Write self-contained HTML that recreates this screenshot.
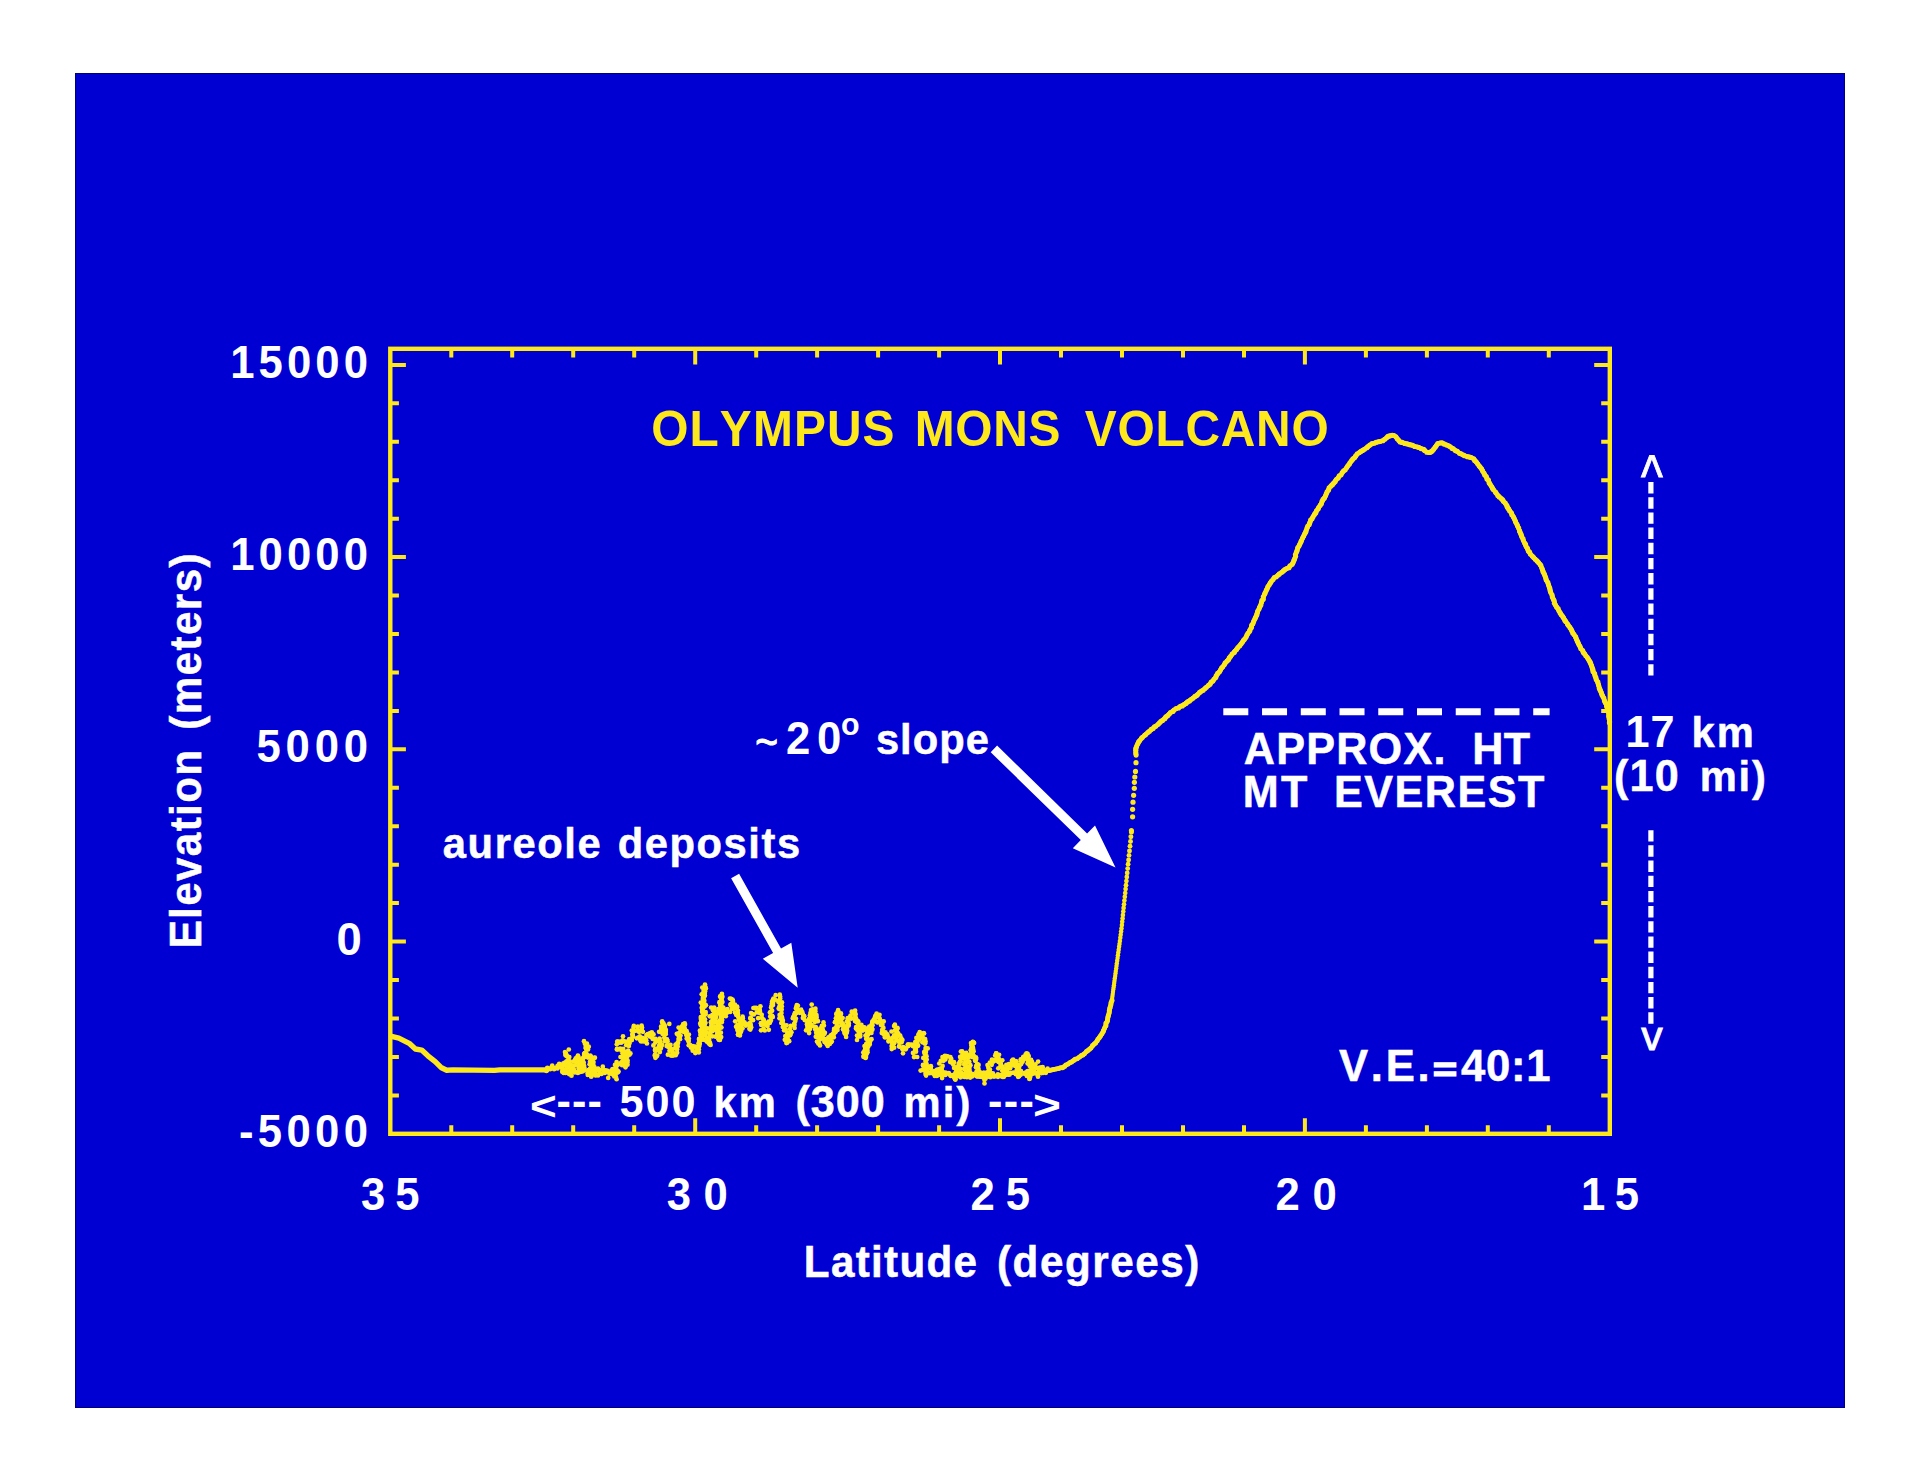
<!DOCTYPE html>
<html lang="en"><head><meta charset="utf-8"><title>Olympus Mons Volcano - elevation profile</title>
<style>html,body{margin:0;padding:0;background:#fff;}body{width:1920px;height:1483px;overflow:hidden;}svg{display:block;}text{font-family:"Liberation Sans", Arial, Helvetica, sans-serif;font-weight:bold;font-kerning:none;white-space:pre;}</style>
</head><body>
<svg width="1920" height="1483" viewBox="0 0 1920 1483">
<rect x="0" y="0" width="1920" height="1483" fill="#ffffff"/>
<rect x="75" y="73" width="1770" height="1335" fill="#0000d2"/>
<rect x="75.5" y="73.5" width="1769" height="1334" fill="none" stroke="#000078" stroke-width="1"/>
<g stroke="#fde81c" stroke-width="4.4" fill="none">
<rect x="390.3" y="348.8" width="1219.5" height="785.0"/>
</g>
<g stroke="#fde81c" stroke-width="4.0" fill="none">
<path d="M1548.8 1133.8v-8.6M1548.8 348.8v8.6"/>
<path d="M1487.8 1133.8v-8.6M1487.8 348.8v8.6"/>
<path d="M1426.9 1133.8v-8.6M1426.9 348.8v8.6"/>
<path d="M1365.9 1133.8v-8.6M1365.9 348.8v8.6"/>
<path d="M1304.9 1133.8v-15.6M1304.9 348.8v15.6"/>
<path d="M1244.0 1133.8v-8.6M1244.0 348.8v8.6"/>
<path d="M1183.0 1133.8v-8.6M1183.0 348.8v8.6"/>
<path d="M1122.0 1133.8v-8.6M1122.0 348.8v8.6"/>
<path d="M1061.0 1133.8v-8.6M1061.0 348.8v8.6"/>
<path d="M1000.0 1133.8v-15.6M1000.0 348.8v15.6"/>
<path d="M939.1 1133.8v-8.6M939.1 348.8v8.6"/>
<path d="M878.1 1133.8v-8.6M878.1 348.8v8.6"/>
<path d="M817.1 1133.8v-8.6M817.1 348.8v8.6"/>
<path d="M756.2 1133.8v-8.6M756.2 348.8v8.6"/>
<path d="M695.2 1133.8v-15.6M695.2 348.8v15.6"/>
<path d="M634.2 1133.8v-8.6M634.2 348.8v8.6"/>
<path d="M573.2 1133.8v-8.6M573.2 348.8v8.6"/>
<path d="M512.2 1133.8v-8.6M512.2 348.8v8.6"/>
<path d="M451.3 1133.8v-8.6M451.3 348.8v8.6"/>
<path d="M390.3 1095.4h8.6M1609.8 1095.4h-8.6"/>
<path d="M390.3 1056.9h8.6M1609.8 1056.9h-8.6"/>
<path d="M390.3 1018.5h8.6M1609.8 1018.5h-8.6"/>
<path d="M390.3 980.0h8.6M1609.8 980.0h-8.6"/>
<path d="M390.3 941.6h15.6M1609.8 941.6h-15.6"/>
<path d="M390.3 903.1h8.6M1609.8 903.1h-8.6"/>
<path d="M390.3 864.7h8.6M1609.8 864.7h-8.6"/>
<path d="M390.3 826.2h8.6M1609.8 826.2h-8.6"/>
<path d="M390.3 787.8h8.6M1609.8 787.8h-8.6"/>
<path d="M390.3 749.3h15.6M1609.8 749.3h-15.6"/>
<path d="M390.3 710.9h8.6M1609.8 710.9h-8.6"/>
<path d="M390.3 672.5h8.6M1609.8 672.5h-8.6"/>
<path d="M390.3 634.0h8.6M1609.8 634.0h-8.6"/>
<path d="M390.3 595.6h8.6M1609.8 595.6h-8.6"/>
<path d="M390.3 557.1h15.6M1609.8 557.1h-15.6"/>
<path d="M390.3 518.7h8.6M1609.8 518.7h-8.6"/>
<path d="M390.3 480.2h8.6M1609.8 480.2h-8.6"/>
<path d="M390.3 441.8h8.6M1609.8 441.8h-8.6"/>
<path d="M390.3 403.3h8.6M1609.8 403.3h-8.6"/>
<path d="M390.3 364.9h15.6M1609.8 364.9h-15.6"/>
</g>
<text transform="translate(230.15 377.70) scale(0.9600 1.0000)" font-size="45.50" fill="#ffffff" stroke="#ffffff" stroke-width="0.00" letter-spacing="4.265">15000</text>
<text transform="translate(230.15 569.90) scale(0.9600 1.0000)" font-size="45.50" fill="#ffffff" stroke="#ffffff" stroke-width="0.00" letter-spacing="4.265">10000</text>
<text transform="translate(256.56 762.20) scale(0.9600 1.0000)" font-size="45.50" fill="#ffffff" stroke="#ffffff" stroke-width="0.00" letter-spacing="4.953">5000</text>
<text transform="translate(238.89 1146.50) scale(0.9600 1.0000)" font-size="45.50" fill="#ffffff" stroke="#ffffff" stroke-width="0.00" letter-spacing="4.526">-5000</text>
<text transform="translate(336.60 954.60) scale(0.9982 1.0000)" font-size="45.50" fill="#ffffff" stroke="#ffffff" stroke-width="0.00" letter-spacing="0.000">0</text>
<text transform="translate(361.10 1209.60) scale(0.9600 1.0000)" font-size="45.50" fill="#ffffff" stroke="#ffffff" stroke-width="0.00" letter-spacing="10.242">35</text>
<text transform="translate(666.70 1209.60) scale(0.9600 1.0000)" font-size="45.50" fill="#ffffff" stroke="#ffffff" stroke-width="0.00" letter-spacing="13.030">30</text>
<text transform="translate(970.39 1209.60) scale(0.9600 1.0000)" font-size="45.50" fill="#ffffff" stroke="#ffffff" stroke-width="0.00" letter-spacing="11.453">25</text>
<text transform="translate(1275.59 1209.60) scale(0.9600 1.0000)" font-size="45.50" fill="#ffffff" stroke="#ffffff" stroke-width="0.00" letter-spacing="13.146">20</text>
<text transform="translate(1580.95 1209.60) scale(0.9600 1.0000)" font-size="45.50" fill="#ffffff" stroke="#ffffff" stroke-width="0.00" letter-spacing="9.981">15</text>
<text transform="translate(803.83 1277.25) scale(0.9700 1.0000)" font-size="43.50" fill="#ffffff" stroke="#ffffff" stroke-width="0.50" letter-spacing="1.352">Latitude</text>
<text transform="translate(996.95 1277.25) scale(0.9700 1.0000)" font-size="43.50" fill="#ffffff" stroke="#ffffff" stroke-width="0.50" letter-spacing="1.606">(degrees)</text>
<text transform="translate(201.15 948.37) rotate(-90) scale(0.9700 1)" font-size="43.50" fill="#ffffff" stroke="#ffffff" stroke-width="0.50" letter-spacing="1.398">Elevation</text>
<text transform="translate(201.15 729.85) rotate(-90) scale(0.9700 1)" font-size="43.50" fill="#ffffff" stroke="#ffffff" stroke-width="0.50" letter-spacing="1.474">(meters)</text>
<text transform="translate(651.13 446.00) scale(0.9700 1.0000)" font-size="49.40" fill="#fde81c" stroke="#fde81c" stroke-width="0.00" letter-spacing="1.124">OLYMPUS</text>
<text transform="translate(914.69 446.00) scale(0.9700 1.0000)" font-size="49.40" fill="#fde81c" stroke="#fde81c" stroke-width="0.00" letter-spacing="0.695">MONS</text>
<text transform="translate(1084.87 446.00) scale(0.9700 1.0000)" font-size="49.40" fill="#fde81c" stroke="#fde81c" stroke-width="0.00" letter-spacing="0.730">VOLCANO</text>
<text transform="translate(755.35 758.03) scale(0.9764 1.1691)" font-size="40.0" font-weight="normal" style="font-weight:normal" fill="#ffffff" stroke="#ffffff" stroke-width="0.93">~</text>
<text transform="translate(785.99 754.00) scale(0.9600 1.0000)" font-size="45.50" fill="#ffffff" stroke="#ffffff" stroke-width="0.00" letter-spacing="6.896">20</text>
<text transform="translate(841.01 735.00) scale(0.9971 1.0000)" font-size="30.50" fill="#ffffff" stroke="#ffffff" stroke-width="0.00" letter-spacing="0.000">o</text>
<text transform="translate(875.88 754.25) scale(0.9700 1.0000)" font-size="43.00" fill="#ffffff" stroke="#ffffff" stroke-width="0.50" letter-spacing="1.070">slope</text>
<text transform="translate(442.83 857.95) scale(0.9700 1.0000)" font-size="43.00" fill="#ffffff" stroke="#ffffff" stroke-width="0.50" letter-spacing="1.646">aureole</text>
<text transform="translate(617.84 857.95) scale(0.9700 1.0000)" font-size="43.00" fill="#ffffff" stroke="#ffffff" stroke-width="0.50" letter-spacing="1.593">deposits</text>
<text transform="translate(530.07 1119.78) scale(1.1466 1.0157)" font-size="40.0" fill="#ffffff">&lt;</text>
<text transform="translate(556.51 1115.90) scale(0.9600 1.0000)" font-size="45.00" fill="#ffffff" stroke="#ffffff" stroke-width="0.00" letter-spacing="1.177">---</text>
<text transform="translate(619.57 1117.20) scale(0.9600 1.0000)" font-size="45.00" fill="#ffffff" stroke="#ffffff" stroke-width="0.00" letter-spacing="2.043">500</text>
<text transform="translate(713.44 1117.45) scale(0.9700 1.0000)" font-size="43.00" fill="#ffffff" stroke="#ffffff" stroke-width="0.50" letter-spacing="2.180">km</text>
<text transform="translate(795.40 1117.45) scale(0.9700 1.0000)" font-size="44.50" fill="#ffffff" stroke="#ffffff" stroke-width="0.50" letter-spacing="1.040">(300</text>
<text transform="translate(903.40 1117.45) scale(0.9700 1.0000)" font-size="43.00" fill="#ffffff" stroke="#ffffff" stroke-width="0.50" letter-spacing="2.300">mi)</text>
<text transform="translate(988.11 1115.90) scale(0.9600 1.0000)" font-size="45.00" fill="#ffffff" stroke="#ffffff" stroke-width="0.00" letter-spacing="1.333">---</text>
<text transform="translate(1032.99 1119.38) scale(1.1965 1.0157)" font-size="40.0" fill="#ffffff">&gt;</text>
<text transform="translate(1338.95 1081.25) scale(0.9700 1.0000)" font-size="45.00" fill="#ffffff" stroke="#ffffff" stroke-width="0.50" letter-spacing="2.859">V.E.</text>
<text transform="translate(1432.90 1080.95) scale(1.0270 0.8533)" font-size="40.0" fill="#ffffff" stroke="#ffffff" stroke-width="1.91" stroke-linejoin="miter">=</text>
<text transform="translate(1461.09 1081.25) scale(0.9700 1.0000)" font-size="45.00" fill="#ffffff" stroke="#ffffff" stroke-width="0.50" letter-spacing="0.691">40:1</text>
<text transform="translate(1243.78 763.55) scale(0.9700 1.0000)" font-size="44.50" fill="#ffffff" stroke="#ffffff" stroke-width="0.50" letter-spacing="1.274">APPROX.</text>
<text transform="translate(1472.16 763.55) scale(0.9700 1.0000)" font-size="44.50" fill="#ffffff" stroke="#ffffff" stroke-width="0.50" letter-spacing="0.425">HT</text>
<text transform="translate(1242.86 807.45) scale(0.9700 1.0000)" font-size="44.50" fill="#ffffff" stroke="#ffffff" stroke-width="0.50" letter-spacing="2.193">MT</text>
<text transform="translate(1334.06 807.45) scale(0.9700 1.0000)" font-size="44.50" fill="#ffffff" stroke="#ffffff" stroke-width="0.50" letter-spacing="1.505">EVEREST</text>
<text transform="translate(1640.92 497.14) scale(1.1644 1.4748)" font-size="40.0" font-weight="normal" style="font-weight:normal" fill="#ffffff" stroke="#ffffff" stroke-width="0.68">^</text>
<text transform="translate(1625.38 746.60) scale(0.9600 1.0000)" font-size="45.00" fill="#ffffff" stroke="#ffffff" stroke-width="0.00" letter-spacing="1.217">17</text>
<text transform="translate(1691.54 746.85) scale(0.9700 1.0000)" font-size="43.00" fill="#ffffff" stroke="#ffffff" stroke-width="0.50" letter-spacing="1.974">km</text>
<text transform="translate(1614.00 790.75) scale(0.9700 1.0000)" font-size="44.50" fill="#ffffff" stroke="#ffffff" stroke-width="0.50" letter-spacing="1.254">(10</text>
<text transform="translate(1699.70 790.75) scale(0.9700 1.0000)" font-size="43.00" fill="#ffffff" stroke="#ffffff" stroke-width="0.50" letter-spacing="1.888">mi)</text>
<text transform="translate(1641.30 1049.95) scale(1.0696 0.9984)" font-size="40.0" font-weight="normal" style="font-weight:normal" fill="#ffffff" stroke="#ffffff" stroke-width="0.87">v</text>
<g fill="none" stroke="#fde81c" stroke-linejoin="round" stroke-linecap="round">
<polyline stroke-width="5.4" points="391.5,1036.4 398.8,1038.1 409.2,1043.3 415.4,1049.0 421.7,1050.1 427.9,1055.8 435.2,1061.6 441.5,1067.8 446.7,1070.2 452.9,1069.9 494.6,1070.4 499.8,1069.9 546.7,1069.9"/>
</g>
<g fill="#fde81c"><circle cx="546.4" cy="1070.9" r="2.35"/><circle cx="547.3" cy="1068.4" r="2.35"/><circle cx="547.4" cy="1067.8" r="2.35"/><circle cx="550.9" cy="1068.3" r="2.35"/><circle cx="551.8" cy="1067.1" r="2.35"/><circle cx="551.9" cy="1067.1" r="2.35"/><circle cx="550.2" cy="1069.2" r="2.35"/><circle cx="554.1" cy="1069.2" r="2.35"/><circle cx="552.2" cy="1065.5" r="2.35"/><circle cx="554.2" cy="1068.1" r="2.35"/><circle cx="556.5" cy="1067.9" r="2.35"/><circle cx="557.6" cy="1065.8" r="2.35"/><circle cx="558.1" cy="1066.9" r="2.35"/><circle cx="557.6" cy="1068.5" r="2.35"/><circle cx="560.0" cy="1066.7" r="2.35"/><circle cx="559.2" cy="1063.8" r="2.35"/><circle cx="560.3" cy="1066.1" r="2.35"/><circle cx="562.3" cy="1067.8" r="2.35"/><circle cx="561.6" cy="1066.4" r="2.35"/><circle cx="562.2" cy="1071.8" r="2.35"/><circle cx="562.4" cy="1069.8" r="2.35"/><circle cx="564.3" cy="1065.2" r="2.35"/><circle cx="564.1" cy="1069.5" r="2.35"/><circle cx="561.7" cy="1065.1" r="2.35"/><circle cx="564.4" cy="1062.9" r="2.35"/><circle cx="565.5" cy="1063.2" r="2.35"/><circle cx="563.2" cy="1063.7" r="2.35"/><circle cx="566.3" cy="1062.7" r="2.35"/><circle cx="567.6" cy="1060.4" r="2.35"/><circle cx="566.2" cy="1055.8" r="2.35"/><circle cx="567.1" cy="1056.0" r="2.35"/><circle cx="566.0" cy="1053.4" r="2.35"/><circle cx="565.6" cy="1053.7" r="2.35"/><circle cx="568.8" cy="1049.5" r="2.35"/><circle cx="565.4" cy="1055.0" r="2.35"/><circle cx="569.3" cy="1057.0" r="2.35"/><circle cx="565.0" cy="1052.0" r="2.35"/><circle cx="568.1" cy="1056.8" r="2.35"/><circle cx="566.3" cy="1061.5" r="2.35"/><circle cx="569.3" cy="1061.1" r="2.35"/><circle cx="568.3" cy="1062.9" r="2.35"/><circle cx="570.2" cy="1064.5" r="2.35"/><circle cx="569.1" cy="1065.6" r="2.35"/><circle cx="566.8" cy="1068.2" r="2.35"/><circle cx="570.5" cy="1067.9" r="2.35"/><circle cx="567.1" cy="1066.7" r="2.35"/><circle cx="571.2" cy="1065.5" r="2.35"/><circle cx="570.4" cy="1072.4" r="2.35"/><circle cx="569.3" cy="1074.2" r="2.35"/><circle cx="572.2" cy="1069.5" r="2.35"/><circle cx="572.4" cy="1070.0" r="2.35"/><circle cx="572.6" cy="1069.8" r="2.35"/><circle cx="572.1" cy="1065.5" r="2.35"/><circle cx="574.8" cy="1065.3" r="2.35"/><circle cx="572.8" cy="1066.0" r="2.35"/><circle cx="576.3" cy="1062.0" r="2.35"/><circle cx="573.1" cy="1061.5" r="2.35"/><circle cx="575.1" cy="1060.0" r="2.35"/><circle cx="577.6" cy="1057.4" r="2.35"/><circle cx="577.9" cy="1055.7" r="2.35"/><circle cx="575.7" cy="1058.4" r="2.35"/><circle cx="578.7" cy="1057.7" r="2.35"/><circle cx="578.0" cy="1056.1" r="2.35"/><circle cx="577.9" cy="1058.2" r="2.35"/><circle cx="577.6" cy="1058.9" r="2.35"/><circle cx="578.7" cy="1059.6" r="2.35"/><circle cx="579.1" cy="1061.9" r="2.35"/><circle cx="580.9" cy="1062.7" r="2.35"/><circle cx="577.8" cy="1062.6" r="2.35"/><circle cx="578.7" cy="1066.3" r="2.35"/><circle cx="578.7" cy="1066.4" r="2.35"/><circle cx="582.0" cy="1061.7" r="2.35"/><circle cx="578.6" cy="1068.5" r="2.35"/><circle cx="581.0" cy="1069.7" r="2.35"/><circle cx="580.4" cy="1071.7" r="2.35"/><circle cx="581.7" cy="1069.9" r="2.35"/><circle cx="584.7" cy="1070.4" r="2.35"/><circle cx="581.0" cy="1068.3" r="2.35"/><circle cx="581.6" cy="1067.1" r="2.35"/><circle cx="578.6" cy="1065.1" r="2.35"/><circle cx="583.7" cy="1062.5" r="2.35"/><circle cx="582.5" cy="1065.5" r="2.35"/><circle cx="583.9" cy="1065.3" r="2.35"/><circle cx="580.8" cy="1060.4" r="2.35"/><circle cx="582.8" cy="1061.1" r="2.35"/><circle cx="584.8" cy="1053.3" r="2.35"/><circle cx="585.0" cy="1054.5" r="2.35"/><circle cx="584.7" cy="1053.2" r="2.35"/><circle cx="584.3" cy="1057.3" r="2.35"/><circle cx="584.1" cy="1054.1" r="2.35"/><circle cx="585.5" cy="1052.8" r="2.35"/><circle cx="584.6" cy="1054.3" r="2.35"/><circle cx="586.3" cy="1049.4" r="2.35"/><circle cx="588.7" cy="1046.5" r="2.35"/><circle cx="586.5" cy="1047.0" r="2.35"/><circle cx="585.7" cy="1047.7" r="2.35"/><circle cx="586.0" cy="1046.4" r="2.35"/><circle cx="584.0" cy="1041.2" r="2.35"/><circle cx="586.9" cy="1043.6" r="2.35"/><circle cx="584.9" cy="1043.8" r="2.35"/><circle cx="588.0" cy="1049.5" r="2.35"/><circle cx="588.2" cy="1047.3" r="2.35"/><circle cx="586.0" cy="1048.2" r="2.35"/><circle cx="586.7" cy="1054.8" r="2.35"/><circle cx="584.2" cy="1056.0" r="2.35"/><circle cx="586.4" cy="1053.7" r="2.35"/><circle cx="583.1" cy="1057.9" r="2.35"/><circle cx="586.4" cy="1054.7" r="2.35"/><circle cx="588.0" cy="1057.6" r="2.35"/><circle cx="590.3" cy="1055.7" r="2.35"/><circle cx="590.7" cy="1061.5" r="2.35"/><circle cx="592.0" cy="1059.1" r="2.35"/><circle cx="590.0" cy="1061.7" r="2.35"/><circle cx="592.2" cy="1059.2" r="2.35"/><circle cx="594.9" cy="1057.7" r="2.35"/><circle cx="591.0" cy="1056.7" r="2.35"/><circle cx="591.7" cy="1059.6" r="2.35"/><circle cx="594.2" cy="1057.9" r="2.35"/><circle cx="593.5" cy="1062.0" r="2.35"/><circle cx="593.2" cy="1064.2" r="2.35"/><circle cx="592.7" cy="1064.8" r="2.35"/><circle cx="594.4" cy="1067.2" r="2.35"/><circle cx="591.4" cy="1067.0" r="2.35"/><circle cx="589.6" cy="1064.3" r="2.35"/><circle cx="589.3" cy="1069.8" r="2.35"/><circle cx="590.0" cy="1068.9" r="2.35"/><circle cx="591.2" cy="1070.1" r="2.35"/><circle cx="590.5" cy="1071.8" r="2.35"/><circle cx="593.4" cy="1072.7" r="2.35"/><circle cx="591.5" cy="1075.8" r="2.35"/><circle cx="590.4" cy="1072.5" r="2.35"/><circle cx="591.2" cy="1076.7" r="2.35"/><circle cx="590.9" cy="1073.0" r="2.35"/><circle cx="595.6" cy="1075.4" r="2.35"/><circle cx="595.4" cy="1075.0" r="2.35"/><circle cx="596.7" cy="1070.5" r="2.35"/><circle cx="595.4" cy="1070.7" r="2.35"/><circle cx="599.5" cy="1069.9" r="2.35"/><circle cx="598.0" cy="1068.7" r="2.35"/><circle cx="598.1" cy="1069.2" r="2.35"/><circle cx="599.7" cy="1070.5" r="2.35"/><circle cx="599.4" cy="1070.8" r="2.35"/><circle cx="602.8" cy="1066.7" r="2.35"/><circle cx="605.8" cy="1070.4" r="2.35"/><circle cx="603.1" cy="1069.6" r="2.35"/><circle cx="607.6" cy="1070.9" r="2.35"/><circle cx="609.4" cy="1073.7" r="2.35"/><circle cx="610.4" cy="1073.2" r="2.35"/><circle cx="612.5" cy="1074.3" r="2.35"/><circle cx="612.5" cy="1069.2" r="2.35"/><circle cx="614.3" cy="1076.5" r="2.35"/><circle cx="613.9" cy="1073.4" r="2.35"/><circle cx="617.9" cy="1071.3" r="2.35"/><circle cx="616.6" cy="1079.2" r="2.35"/><circle cx="614.8" cy="1074.4" r="2.35"/><circle cx="618.5" cy="1071.6" r="2.35"/><circle cx="616.9" cy="1072.4" r="2.35"/><circle cx="615.0" cy="1069.1" r="2.35"/><circle cx="616.6" cy="1069.7" r="2.35"/><circle cx="616.3" cy="1066.4" r="2.35"/><circle cx="615.0" cy="1064.9" r="2.35"/><circle cx="617.8" cy="1064.7" r="2.35"/><circle cx="616.6" cy="1062.0" r="2.35"/><circle cx="622.1" cy="1065.2" r="2.35"/><circle cx="620.5" cy="1057.0" r="2.35"/><circle cx="621.5" cy="1062.4" r="2.35"/><circle cx="623.8" cy="1061.5" r="2.35"/><circle cx="622.5" cy="1061.2" r="2.35"/><circle cx="620.4" cy="1063.4" r="2.35"/><circle cx="623.8" cy="1061.1" r="2.35"/><circle cx="625.5" cy="1067.3" r="2.35"/><circle cx="622.3" cy="1063.6" r="2.35"/><circle cx="624.8" cy="1065.5" r="2.35"/><circle cx="624.1" cy="1061.9" r="2.35"/><circle cx="627.5" cy="1064.7" r="2.35"/><circle cx="623.3" cy="1058.7" r="2.35"/><circle cx="627.3" cy="1062.2" r="2.35"/><circle cx="627.6" cy="1060.6" r="2.35"/><circle cx="624.5" cy="1058.3" r="2.35"/><circle cx="623.6" cy="1055.3" r="2.35"/><circle cx="627.1" cy="1056.9" r="2.35"/><circle cx="627.0" cy="1054.7" r="2.35"/><circle cx="629.4" cy="1054.7" r="2.35"/><circle cx="630.4" cy="1053.4" r="2.35"/><circle cx="629.0" cy="1054.0" r="2.35"/><circle cx="628.2" cy="1050.5" r="2.35"/><circle cx="626.1" cy="1051.9" r="2.35"/><circle cx="625.6" cy="1052.0" r="2.35"/><circle cx="624.5" cy="1051.8" r="2.35"/><circle cx="623.1" cy="1048.8" r="2.35"/><circle cx="622.6" cy="1053.2" r="2.35"/><circle cx="621.4" cy="1050.4" r="2.35"/><circle cx="620.2" cy="1048.6" r="2.35"/><circle cx="616.9" cy="1049.4" r="2.35"/><circle cx="617.8" cy="1049.5" r="2.35"/><circle cx="617.3" cy="1041.6" r="2.35"/><circle cx="617.1" cy="1048.8" r="2.35"/><circle cx="617.6" cy="1041.7" r="2.35"/><circle cx="616.8" cy="1044.3" r="2.35"/><circle cx="619.2" cy="1042.6" r="2.35"/><circle cx="621.2" cy="1042.7" r="2.35"/><circle cx="620.1" cy="1041.5" r="2.35"/><circle cx="623.0" cy="1041.2" r="2.35"/><circle cx="623.0" cy="1036.3" r="2.35"/><circle cx="622.7" cy="1040.3" r="2.35"/><circle cx="623.7" cy="1041.4" r="2.35"/><circle cx="626.0" cy="1041.5" r="2.35"/><circle cx="626.2" cy="1045.2" r="2.35"/><circle cx="629.2" cy="1040.0" r="2.35"/><circle cx="628.9" cy="1046.0" r="2.35"/><circle cx="629.6" cy="1043.0" r="2.35"/><circle cx="631.7" cy="1040.1" r="2.35"/><circle cx="629.3" cy="1039.2" r="2.35"/><circle cx="631.7" cy="1039.9" r="2.35"/><circle cx="632.6" cy="1036.5" r="2.35"/><circle cx="633.1" cy="1036.4" r="2.35"/><circle cx="632.6" cy="1034.2" r="2.35"/><circle cx="632.4" cy="1034.3" r="2.35"/><circle cx="631.8" cy="1030.5" r="2.35"/><circle cx="633.6" cy="1027.6" r="2.35"/><circle cx="633.8" cy="1025.9" r="2.35"/><circle cx="634.7" cy="1030.9" r="2.35"/><circle cx="637.6" cy="1029.5" r="2.35"/><circle cx="637.8" cy="1026.7" r="2.35"/><circle cx="641.7" cy="1030.4" r="2.35"/><circle cx="642.0" cy="1027.5" r="2.35"/><circle cx="641.6" cy="1025.5" r="2.35"/><circle cx="642.9" cy="1031.8" r="2.35"/><circle cx="639.0" cy="1031.0" r="2.35"/><circle cx="641.8" cy="1028.7" r="2.35"/><circle cx="638.2" cy="1031.3" r="2.35"/><circle cx="639.3" cy="1031.8" r="2.35"/><circle cx="639.8" cy="1036.3" r="2.35"/><circle cx="640.1" cy="1038.4" r="2.35"/><circle cx="640.8" cy="1040.5" r="2.35"/><circle cx="636.8" cy="1038.3" r="2.35"/><circle cx="638.1" cy="1037.7" r="2.35"/><circle cx="640.5" cy="1040.5" r="2.35"/><circle cx="642.4" cy="1037.8" r="2.35"/><circle cx="641.2" cy="1041.5" r="2.35"/><circle cx="643.7" cy="1041.5" r="2.35"/><circle cx="645.0" cy="1041.2" r="2.35"/><circle cx="646.9" cy="1043.5" r="2.35"/><circle cx="646.2" cy="1040.3" r="2.35"/><circle cx="646.4" cy="1035.0" r="2.35"/><circle cx="645.6" cy="1039.3" r="2.35"/><circle cx="645.3" cy="1038.4" r="2.35"/><circle cx="647.7" cy="1034.0" r="2.35"/><circle cx="647.5" cy="1035.0" r="2.35"/><circle cx="649.6" cy="1036.4" r="2.35"/><circle cx="650.1" cy="1033.0" r="2.35"/><circle cx="651.2" cy="1034.1" r="2.35"/><circle cx="653.5" cy="1034.4" r="2.35"/><circle cx="651.8" cy="1032.3" r="2.35"/><circle cx="652.4" cy="1034.8" r="2.35"/><circle cx="651.7" cy="1037.2" r="2.35"/><circle cx="652.7" cy="1038.9" r="2.35"/><circle cx="654.2" cy="1039.1" r="2.35"/><circle cx="656.8" cy="1040.5" r="2.35"/><circle cx="655.4" cy="1042.6" r="2.35"/><circle cx="655.6" cy="1038.9" r="2.35"/><circle cx="653.4" cy="1045.4" r="2.35"/><circle cx="655.2" cy="1050.8" r="2.35"/><circle cx="655.0" cy="1049.9" r="2.35"/><circle cx="655.7" cy="1050.5" r="2.35"/><circle cx="655.4" cy="1049.5" r="2.35"/><circle cx="655.5" cy="1048.9" r="2.35"/><circle cx="656.5" cy="1050.3" r="2.35"/><circle cx="655.4" cy="1057.8" r="2.35"/><circle cx="654.9" cy="1054.9" r="2.35"/><circle cx="656.8" cy="1056.1" r="2.35"/><circle cx="654.8" cy="1055.8" r="2.35"/><circle cx="657.2" cy="1055.6" r="2.35"/><circle cx="656.1" cy="1056.6" r="2.35"/><circle cx="659.9" cy="1052.1" r="2.35"/><circle cx="658.7" cy="1050.1" r="2.35"/><circle cx="660.8" cy="1048.5" r="2.35"/><circle cx="660.1" cy="1047.7" r="2.35"/><circle cx="658.5" cy="1048.9" r="2.35"/><circle cx="661.3" cy="1046.2" r="2.35"/><circle cx="658.8" cy="1046.6" r="2.35"/><circle cx="659.8" cy="1044.3" r="2.35"/><circle cx="662.0" cy="1044.7" r="2.35"/><circle cx="659.5" cy="1045.8" r="2.35"/><circle cx="660.4" cy="1041.6" r="2.35"/><circle cx="659.7" cy="1038.7" r="2.35"/><circle cx="658.4" cy="1041.1" r="2.35"/><circle cx="662.6" cy="1033.9" r="2.35"/><circle cx="659.1" cy="1031.8" r="2.35"/><circle cx="662.7" cy="1032.9" r="2.35"/><circle cx="661.3" cy="1031.9" r="2.35"/><circle cx="661.4" cy="1029.2" r="2.35"/><circle cx="661.8" cy="1027.2" r="2.35"/><circle cx="661.8" cy="1029.5" r="2.35"/><circle cx="662.7" cy="1027.2" r="2.35"/><circle cx="661.1" cy="1026.7" r="2.35"/><circle cx="661.8" cy="1028.3" r="2.35"/><circle cx="663.6" cy="1023.7" r="2.35"/><circle cx="662.2" cy="1021.3" r="2.35"/><circle cx="662.2" cy="1022.7" r="2.35"/><circle cx="664.6" cy="1025.4" r="2.35"/><circle cx="665.7" cy="1029.6" r="2.35"/><circle cx="664.7" cy="1026.4" r="2.35"/><circle cx="669.3" cy="1023.9" r="2.35"/><circle cx="664.9" cy="1029.2" r="2.35"/><circle cx="665.8" cy="1031.0" r="2.35"/><circle cx="665.3" cy="1032.1" r="2.35"/><circle cx="665.7" cy="1034.2" r="2.35"/><circle cx="663.2" cy="1032.1" r="2.35"/><circle cx="665.6" cy="1033.1" r="2.35"/><circle cx="664.3" cy="1037.6" r="2.35"/><circle cx="664.8" cy="1038.9" r="2.35"/><circle cx="667.0" cy="1039.4" r="2.35"/><circle cx="667.0" cy="1039.8" r="2.35"/><circle cx="664.9" cy="1041.2" r="2.35"/><circle cx="667.6" cy="1041.4" r="2.35"/><circle cx="667.2" cy="1045.1" r="2.35"/><circle cx="666.6" cy="1046.1" r="2.35"/><circle cx="670.5" cy="1044.9" r="2.35"/><circle cx="668.6" cy="1046.9" r="2.35"/><circle cx="670.8" cy="1049.1" r="2.35"/><circle cx="670.3" cy="1048.3" r="2.35"/><circle cx="669.5" cy="1050.8" r="2.35"/><circle cx="667.9" cy="1054.7" r="2.35"/><circle cx="672.1" cy="1049.4" r="2.35"/><circle cx="672.6" cy="1053.7" r="2.35"/><circle cx="672.9" cy="1055.7" r="2.35"/><circle cx="671.0" cy="1055.6" r="2.35"/><circle cx="675.4" cy="1054.2" r="2.35"/><circle cx="672.6" cy="1051.5" r="2.35"/><circle cx="672.9" cy="1053.7" r="2.35"/><circle cx="677.1" cy="1052.7" r="2.35"/><circle cx="675.7" cy="1055.2" r="2.35"/><circle cx="675.2" cy="1048.2" r="2.35"/><circle cx="677.1" cy="1049.5" r="2.35"/><circle cx="675.5" cy="1044.9" r="2.35"/><circle cx="677.7" cy="1046.6" r="2.35"/><circle cx="676.1" cy="1044.6" r="2.35"/><circle cx="677.2" cy="1044.6" r="2.35"/><circle cx="677.9" cy="1042.3" r="2.35"/><circle cx="677.7" cy="1043.3" r="2.35"/><circle cx="680.0" cy="1039.2" r="2.35"/><circle cx="679.4" cy="1037.2" r="2.35"/><circle cx="678.5" cy="1039.0" r="2.35"/><circle cx="680.5" cy="1035.5" r="2.35"/><circle cx="678.5" cy="1035.4" r="2.35"/><circle cx="676.8" cy="1033.8" r="2.35"/><circle cx="678.5" cy="1033.4" r="2.35"/><circle cx="678.6" cy="1027.6" r="2.35"/><circle cx="680.7" cy="1031.1" r="2.35"/><circle cx="680.6" cy="1031.2" r="2.35"/><circle cx="681.6" cy="1027.2" r="2.35"/><circle cx="683.2" cy="1024.2" r="2.35"/><circle cx="682.4" cy="1026.2" r="2.35"/><circle cx="685.0" cy="1024.8" r="2.35"/><circle cx="684.8" cy="1023.4" r="2.35"/><circle cx="685.0" cy="1029.2" r="2.35"/><circle cx="683.9" cy="1031.9" r="2.35"/><circle cx="684.2" cy="1028.4" r="2.35"/><circle cx="685.5" cy="1031.7" r="2.35"/><circle cx="683.8" cy="1026.7" r="2.35"/><circle cx="686.4" cy="1033.7" r="2.35"/><circle cx="686.7" cy="1038.6" r="2.35"/><circle cx="686.3" cy="1035.1" r="2.35"/><circle cx="687.5" cy="1036.5" r="2.35"/><circle cx="688.9" cy="1034.5" r="2.35"/><circle cx="686.7" cy="1031.2" r="2.35"/><circle cx="688.8" cy="1038.5" r="2.35"/><circle cx="689.4" cy="1044.7" r="2.35"/><circle cx="688.6" cy="1041.1" r="2.35"/><circle cx="688.4" cy="1041.1" r="2.35"/><circle cx="688.7" cy="1045.2" r="2.35"/><circle cx="690.1" cy="1045.2" r="2.35"/><circle cx="690.9" cy="1047.6" r="2.35"/><circle cx="692.8" cy="1046.1" r="2.35"/><circle cx="694.0" cy="1046.8" r="2.35"/><circle cx="692.7" cy="1050.7" r="2.35"/><circle cx="695.9" cy="1046.6" r="2.35"/><circle cx="697.7" cy="1049.9" r="2.35"/><circle cx="695.3" cy="1053.1" r="2.35"/><circle cx="698.8" cy="1052.4" r="2.35"/><circle cx="698.8" cy="1049.2" r="2.35"/><circle cx="696.6" cy="1050.1" r="2.35"/><circle cx="698.8" cy="1046.4" r="2.35"/><circle cx="699.3" cy="1045.9" r="2.35"/><circle cx="699.8" cy="1043.7" r="2.35"/><circle cx="699.0" cy="1038.9" r="2.35"/><circle cx="698.6" cy="1043.3" r="2.35"/><circle cx="701.0" cy="1040.0" r="2.35"/><circle cx="699.2" cy="1042.7" r="2.35"/><circle cx="699.2" cy="1039.7" r="2.35"/><circle cx="702.0" cy="1037.1" r="2.35"/><circle cx="701.7" cy="1034.4" r="2.35"/><circle cx="700.6" cy="1034.4" r="2.35"/><circle cx="700.7" cy="1035.6" r="2.35"/><circle cx="703.9" cy="1030.8" r="2.35"/><circle cx="700.3" cy="1031.9" r="2.35"/><circle cx="699.9" cy="1030.7" r="2.35"/><circle cx="702.0" cy="1027.9" r="2.35"/><circle cx="701.9" cy="1024.1" r="2.35"/><circle cx="702.2" cy="1022.8" r="2.35"/><circle cx="700.3" cy="1023.6" r="2.35"/><circle cx="700.7" cy="1025.1" r="2.35"/><circle cx="701.4" cy="1021.4" r="2.35"/><circle cx="702.3" cy="1024.1" r="2.35"/><circle cx="701.9" cy="1020.5" r="2.35"/><circle cx="703.8" cy="1019.1" r="2.35"/><circle cx="700.9" cy="1022.3" r="2.35"/><circle cx="705.7" cy="1012.1" r="2.35"/><circle cx="703.1" cy="1015.7" r="2.35"/><circle cx="704.4" cy="1015.0" r="2.35"/><circle cx="702.8" cy="1010.3" r="2.35"/><circle cx="703.3" cy="1013.2" r="2.35"/><circle cx="701.7" cy="1007.8" r="2.35"/><circle cx="703.1" cy="1004.8" r="2.35"/><circle cx="702.8" cy="1006.5" r="2.35"/><circle cx="703.7" cy="1004.7" r="2.35"/><circle cx="702.1" cy="1004.1" r="2.35"/><circle cx="703.3" cy="1002.3" r="2.35"/><circle cx="703.5" cy="1003.9" r="2.35"/><circle cx="705.2" cy="1004.6" r="2.35"/><circle cx="702.8" cy="999.1" r="2.35"/><circle cx="700.8" cy="1002.5" r="2.35"/><circle cx="703.1" cy="997.4" r="2.35"/><circle cx="704.7" cy="993.5" r="2.35"/><circle cx="704.7" cy="994.9" r="2.35"/><circle cx="701.7" cy="994.3" r="2.35"/><circle cx="705.6" cy="988.7" r="2.35"/><circle cx="705.1" cy="991.6" r="2.35"/><circle cx="704.7" cy="990.8" r="2.35"/><circle cx="705.8" cy="988.3" r="2.35"/><circle cx="705.2" cy="986.6" r="2.35"/><circle cx="705.0" cy="984.6" r="2.35"/><circle cx="703.6" cy="990.1" r="2.35"/><circle cx="704.3" cy="987.5" r="2.35"/><circle cx="702.3" cy="987.5" r="2.35"/><circle cx="704.0" cy="992.2" r="2.35"/><circle cx="704.3" cy="992.7" r="2.35"/><circle cx="703.7" cy="995.6" r="2.35"/><circle cx="703.2" cy="993.0" r="2.35"/><circle cx="704.9" cy="995.5" r="2.35"/><circle cx="703.4" cy="995.5" r="2.35"/><circle cx="703.4" cy="999.1" r="2.35"/><circle cx="704.2" cy="996.7" r="2.35"/><circle cx="704.3" cy="1000.7" r="2.35"/><circle cx="702.3" cy="1003.1" r="2.35"/><circle cx="703.2" cy="1002.2" r="2.35"/><circle cx="704.5" cy="1006.7" r="2.35"/><circle cx="702.5" cy="1006.2" r="2.35"/><circle cx="702.2" cy="1011.2" r="2.35"/><circle cx="702.6" cy="1010.2" r="2.35"/><circle cx="702.3" cy="1010.7" r="2.35"/><circle cx="705.9" cy="1005.3" r="2.35"/><circle cx="702.4" cy="1012.6" r="2.35"/><circle cx="702.8" cy="1011.5" r="2.35"/><circle cx="705.6" cy="1014.2" r="2.35"/><circle cx="700.8" cy="1017.0" r="2.35"/><circle cx="700.9" cy="1018.9" r="2.35"/><circle cx="702.5" cy="1018.1" r="2.35"/><circle cx="705.0" cy="1019.3" r="2.35"/><circle cx="701.7" cy="1016.9" r="2.35"/><circle cx="705.2" cy="1023.0" r="2.35"/><circle cx="702.7" cy="1024.5" r="2.35"/><circle cx="704.5" cy="1025.3" r="2.35"/><circle cx="701.0" cy="1024.7" r="2.35"/><circle cx="705.2" cy="1028.0" r="2.35"/><circle cx="705.3" cy="1022.8" r="2.35"/><circle cx="704.4" cy="1030.0" r="2.35"/><circle cx="707.6" cy="1028.3" r="2.35"/><circle cx="704.0" cy="1031.6" r="2.35"/><circle cx="705.6" cy="1031.9" r="2.35"/><circle cx="706.1" cy="1032.4" r="2.35"/><circle cx="705.0" cy="1034.2" r="2.35"/><circle cx="705.3" cy="1035.0" r="2.35"/><circle cx="703.6" cy="1039.7" r="2.35"/><circle cx="706.6" cy="1037.5" r="2.35"/><circle cx="707.0" cy="1041.7" r="2.35"/><circle cx="706.0" cy="1040.6" r="2.35"/><circle cx="708.6" cy="1043.0" r="2.35"/><circle cx="708.0" cy="1038.9" r="2.35"/><circle cx="710.6" cy="1044.9" r="2.35"/><circle cx="709.4" cy="1044.1" r="2.35"/><circle cx="709.9" cy="1042.5" r="2.35"/><circle cx="708.4" cy="1040.7" r="2.35"/><circle cx="709.1" cy="1039.7" r="2.35"/><circle cx="708.5" cy="1040.9" r="2.35"/><circle cx="708.5" cy="1039.7" r="2.35"/><circle cx="709.0" cy="1037.9" r="2.35"/><circle cx="712.3" cy="1036.3" r="2.35"/><circle cx="709.7" cy="1034.8" r="2.35"/><circle cx="711.0" cy="1030.0" r="2.35"/><circle cx="710.2" cy="1032.5" r="2.35"/><circle cx="710.5" cy="1031.1" r="2.35"/><circle cx="712.2" cy="1031.3" r="2.35"/><circle cx="712.6" cy="1029.7" r="2.35"/><circle cx="711.2" cy="1027.2" r="2.35"/><circle cx="711.4" cy="1025.4" r="2.35"/><circle cx="711.7" cy="1021.3" r="2.35"/><circle cx="711.6" cy="1023.5" r="2.35"/><circle cx="710.9" cy="1022.2" r="2.35"/><circle cx="713.0" cy="1020.7" r="2.35"/><circle cx="715.2" cy="1014.6" r="2.35"/><circle cx="712.4" cy="1014.9" r="2.35"/><circle cx="714.1" cy="1022.6" r="2.35"/><circle cx="709.7" cy="1016.3" r="2.35"/><circle cx="713.8" cy="1014.2" r="2.35"/><circle cx="714.0" cy="1009.1" r="2.35"/><circle cx="714.6" cy="1013.1" r="2.35"/><circle cx="713.6" cy="1010.0" r="2.35"/><circle cx="714.6" cy="1008.9" r="2.35"/><circle cx="714.2" cy="1007.6" r="2.35"/><circle cx="711.1" cy="1007.5" r="2.35"/><circle cx="714.3" cy="1010.4" r="2.35"/><circle cx="712.9" cy="1010.0" r="2.35"/><circle cx="714.9" cy="1011.6" r="2.35"/><circle cx="715.7" cy="1016.6" r="2.35"/><circle cx="712.9" cy="1010.0" r="2.35"/><circle cx="715.2" cy="1018.2" r="2.35"/><circle cx="715.3" cy="1018.0" r="2.35"/><circle cx="713.5" cy="1016.1" r="2.35"/><circle cx="715.8" cy="1016.9" r="2.35"/><circle cx="712.6" cy="1018.0" r="2.35"/><circle cx="718.6" cy="1025.0" r="2.35"/><circle cx="714.8" cy="1020.9" r="2.35"/><circle cx="716.4" cy="1022.1" r="2.35"/><circle cx="718.1" cy="1024.6" r="2.35"/><circle cx="715.4" cy="1028.6" r="2.35"/><circle cx="716.2" cy="1027.6" r="2.35"/><circle cx="717.1" cy="1027.8" r="2.35"/><circle cx="717.8" cy="1028.3" r="2.35"/><circle cx="715.1" cy="1026.5" r="2.35"/><circle cx="716.0" cy="1030.6" r="2.35"/><circle cx="717.8" cy="1033.5" r="2.35"/><circle cx="718.7" cy="1034.8" r="2.35"/><circle cx="717.1" cy="1034.4" r="2.35"/><circle cx="715.6" cy="1036.7" r="2.35"/><circle cx="719.1" cy="1039.4" r="2.35"/><circle cx="718.5" cy="1039.2" r="2.35"/><circle cx="720.0" cy="1039.8" r="2.35"/><circle cx="719.8" cy="1039.7" r="2.35"/><circle cx="719.2" cy="1039.9" r="2.35"/><circle cx="718.3" cy="1035.4" r="2.35"/><circle cx="718.0" cy="1033.2" r="2.35"/><circle cx="721.2" cy="1037.1" r="2.35"/><circle cx="719.3" cy="1033.5" r="2.35"/><circle cx="720.9" cy="1032.7" r="2.35"/><circle cx="721.0" cy="1027.3" r="2.35"/><circle cx="718.7" cy="1029.5" r="2.35"/><circle cx="721.4" cy="1027.5" r="2.35"/><circle cx="718.5" cy="1025.4" r="2.35"/><circle cx="718.9" cy="1023.1" r="2.35"/><circle cx="721.7" cy="1022.3" r="2.35"/><circle cx="719.9" cy="1026.7" r="2.35"/><circle cx="721.5" cy="1021.8" r="2.35"/><circle cx="719.2" cy="1020.7" r="2.35"/><circle cx="722.2" cy="1019.9" r="2.35"/><circle cx="721.8" cy="1017.6" r="2.35"/><circle cx="720.9" cy="1015.7" r="2.35"/><circle cx="720.9" cy="1017.5" r="2.35"/><circle cx="718.6" cy="1013.5" r="2.35"/><circle cx="720.8" cy="1011.2" r="2.35"/><circle cx="720.2" cy="1012.7" r="2.35"/><circle cx="723.3" cy="1011.1" r="2.35"/><circle cx="721.2" cy="1005.5" r="2.35"/><circle cx="723.3" cy="1007.5" r="2.35"/><circle cx="720.8" cy="1003.9" r="2.35"/><circle cx="720.9" cy="1002.7" r="2.35"/><circle cx="721.1" cy="1004.6" r="2.35"/><circle cx="721.2" cy="1002.9" r="2.35"/><circle cx="720.1" cy="1004.0" r="2.35"/><circle cx="720.4" cy="996.3" r="2.35"/><circle cx="721.1" cy="997.1" r="2.35"/><circle cx="720.1" cy="996.7" r="2.35"/><circle cx="721.9" cy="993.8" r="2.35"/><circle cx="721.4" cy="998.6" r="2.35"/><circle cx="722.4" cy="996.7" r="2.35"/><circle cx="721.7" cy="998.0" r="2.35"/><circle cx="721.5" cy="1000.9" r="2.35"/><circle cx="721.4" cy="995.9" r="2.35"/><circle cx="721.5" cy="1000.2" r="2.35"/><circle cx="722.4" cy="1002.0" r="2.35"/><circle cx="721.6" cy="1008.8" r="2.35"/><circle cx="720.0" cy="1003.5" r="2.35"/><circle cx="719.4" cy="1002.2" r="2.35"/><circle cx="718.7" cy="1008.9" r="2.35"/><circle cx="720.2" cy="1005.7" r="2.35"/><circle cx="719.0" cy="1011.9" r="2.35"/><circle cx="719.8" cy="1011.2" r="2.35"/><circle cx="721.1" cy="1015.9" r="2.35"/><circle cx="723.5" cy="1016.0" r="2.35"/><circle cx="722.4" cy="1014.0" r="2.35"/><circle cx="725.8" cy="1016.2" r="2.35"/><circle cx="724.2" cy="1014.0" r="2.35"/><circle cx="726.2" cy="1012.9" r="2.35"/><circle cx="726.4" cy="1009.8" r="2.35"/><circle cx="727.5" cy="1009.0" r="2.35"/><circle cx="730.1" cy="1011.9" r="2.35"/><circle cx="727.3" cy="1012.5" r="2.35"/><circle cx="730.4" cy="1004.7" r="2.35"/><circle cx="732.0" cy="1008.9" r="2.35"/><circle cx="732.7" cy="1003.6" r="2.35"/><circle cx="731.1" cy="1005.7" r="2.35"/><circle cx="731.0" cy="1004.0" r="2.35"/><circle cx="732.5" cy="999.5" r="2.35"/><circle cx="729.9" cy="998.5" r="2.35"/><circle cx="731.1" cy="998.9" r="2.35"/><circle cx="732.8" cy="1001.6" r="2.35"/><circle cx="732.9" cy="1000.8" r="2.35"/><circle cx="732.8" cy="1005.2" r="2.35"/><circle cx="734.9" cy="1004.6" r="2.35"/><circle cx="734.0" cy="1008.7" r="2.35"/><circle cx="734.2" cy="1008.0" r="2.35"/><circle cx="737.0" cy="1007.3" r="2.35"/><circle cx="737.1" cy="1006.7" r="2.35"/><circle cx="737.9" cy="1010.5" r="2.35"/><circle cx="735.0" cy="1012.6" r="2.35"/><circle cx="736.3" cy="1015.0" r="2.35"/><circle cx="736.6" cy="1013.3" r="2.35"/><circle cx="737.9" cy="1014.2" r="2.35"/><circle cx="737.8" cy="1015.0" r="2.35"/><circle cx="738.4" cy="1017.4" r="2.35"/><circle cx="737.8" cy="1013.1" r="2.35"/><circle cx="739.0" cy="1020.0" r="2.35"/><circle cx="735.2" cy="1021.3" r="2.35"/><circle cx="738.1" cy="1024.5" r="2.35"/><circle cx="736.1" cy="1026.7" r="2.35"/><circle cx="737.4" cy="1029.7" r="2.35"/><circle cx="737.6" cy="1027.5" r="2.35"/><circle cx="737.5" cy="1025.1" r="2.35"/><circle cx="739.6" cy="1030.4" r="2.35"/><circle cx="740.4" cy="1031.5" r="2.35"/><circle cx="737.9" cy="1027.7" r="2.35"/><circle cx="738.0" cy="1030.9" r="2.35"/><circle cx="738.0" cy="1034.7" r="2.35"/><circle cx="739.7" cy="1034.2" r="2.35"/><circle cx="739.7" cy="1035.0" r="2.35"/><circle cx="739.9" cy="1035.5" r="2.35"/><circle cx="741.1" cy="1031.4" r="2.35"/><circle cx="738.1" cy="1034.4" r="2.35"/><circle cx="740.4" cy="1032.5" r="2.35"/><circle cx="738.3" cy="1028.4" r="2.35"/><circle cx="740.7" cy="1025.0" r="2.35"/><circle cx="740.2" cy="1028.1" r="2.35"/><circle cx="742.5" cy="1028.6" r="2.35"/><circle cx="740.2" cy="1021.4" r="2.35"/><circle cx="742.2" cy="1024.8" r="2.35"/><circle cx="741.9" cy="1019.1" r="2.35"/><circle cx="742.9" cy="1022.0" r="2.35"/><circle cx="742.8" cy="1018.2" r="2.35"/><circle cx="743.0" cy="1021.0" r="2.35"/><circle cx="742.6" cy="1016.7" r="2.35"/><circle cx="744.5" cy="1022.4" r="2.35"/><circle cx="744.8" cy="1024.2" r="2.35"/><circle cx="744.7" cy="1023.3" r="2.35"/><circle cx="745.8" cy="1025.6" r="2.35"/><circle cx="749.0" cy="1025.0" r="2.35"/><circle cx="750.3" cy="1029.6" r="2.35"/><circle cx="749.4" cy="1028.7" r="2.35"/><circle cx="751.2" cy="1027.2" r="2.35"/><circle cx="749.2" cy="1024.3" r="2.35"/><circle cx="750.3" cy="1027.9" r="2.35"/><circle cx="750.7" cy="1024.8" r="2.35"/><circle cx="750.2" cy="1023.1" r="2.35"/><circle cx="749.0" cy="1023.7" r="2.35"/><circle cx="750.6" cy="1018.2" r="2.35"/><circle cx="750.6" cy="1017.6" r="2.35"/><circle cx="753.0" cy="1020.2" r="2.35"/><circle cx="750.5" cy="1018.7" r="2.35"/><circle cx="753.8" cy="1014.5" r="2.35"/><circle cx="751.1" cy="1013.0" r="2.35"/><circle cx="752.6" cy="1014.0" r="2.35"/><circle cx="753.4" cy="1008.0" r="2.35"/><circle cx="754.5" cy="1007.8" r="2.35"/><circle cx="756.2" cy="1007.8" r="2.35"/><circle cx="755.3" cy="1008.3" r="2.35"/><circle cx="756.8" cy="1012.4" r="2.35"/><circle cx="759.8" cy="1010.8" r="2.35"/><circle cx="760.4" cy="1006.3" r="2.35"/><circle cx="759.6" cy="1009.4" r="2.35"/><circle cx="759.2" cy="1012.8" r="2.35"/><circle cx="759.8" cy="1011.6" r="2.35"/><circle cx="759.6" cy="1010.1" r="2.35"/><circle cx="762.0" cy="1018.1" r="2.35"/><circle cx="761.7" cy="1014.7" r="2.35"/><circle cx="758.2" cy="1018.2" r="2.35"/><circle cx="763.5" cy="1019.7" r="2.35"/><circle cx="763.4" cy="1023.3" r="2.35"/><circle cx="763.9" cy="1020.7" r="2.35"/><circle cx="764.1" cy="1024.4" r="2.35"/><circle cx="760.9" cy="1023.2" r="2.35"/><circle cx="761.3" cy="1025.0" r="2.35"/><circle cx="764.2" cy="1024.3" r="2.35"/><circle cx="761.0" cy="1030.3" r="2.35"/><circle cx="764.8" cy="1030.5" r="2.35"/><circle cx="763.5" cy="1028.8" r="2.35"/><circle cx="768.8" cy="1029.8" r="2.35"/><circle cx="766.7" cy="1025.4" r="2.35"/><circle cx="767.5" cy="1025.9" r="2.35"/><circle cx="769.5" cy="1022.9" r="2.35"/><circle cx="766.9" cy="1023.1" r="2.35"/><circle cx="768.5" cy="1021.7" r="2.35"/><circle cx="769.9" cy="1022.5" r="2.35"/><circle cx="771.5" cy="1017.2" r="2.35"/><circle cx="770.9" cy="1020.5" r="2.35"/><circle cx="770.2" cy="1016.6" r="2.35"/><circle cx="772.8" cy="1017.1" r="2.35"/><circle cx="772.1" cy="1010.7" r="2.35"/><circle cx="769.9" cy="1012.6" r="2.35"/><circle cx="772.2" cy="1015.9" r="2.35"/><circle cx="770.7" cy="1011.9" r="2.35"/><circle cx="773.0" cy="1005.0" r="2.35"/><circle cx="771.1" cy="1007.5" r="2.35"/><circle cx="771.6" cy="1005.6" r="2.35"/><circle cx="773.0" cy="1003.0" r="2.35"/><circle cx="773.1" cy="1002.1" r="2.35"/><circle cx="772.0" cy="1003.2" r="2.35"/><circle cx="772.1" cy="1001.5" r="2.35"/><circle cx="775.0" cy="999.7" r="2.35"/><circle cx="772.9" cy="999.9" r="2.35"/><circle cx="773.5" cy="999.9" r="2.35"/><circle cx="773.5" cy="998.5" r="2.35"/><circle cx="775.7" cy="995.2" r="2.35"/><circle cx="779.8" cy="994.7" r="2.35"/><circle cx="780.2" cy="998.4" r="2.35"/><circle cx="780.1" cy="996.4" r="2.35"/><circle cx="779.9" cy="1002.5" r="2.35"/><circle cx="778.4" cy="1000.6" r="2.35"/><circle cx="782.0" cy="1002.4" r="2.35"/><circle cx="778.4" cy="1002.0" r="2.35"/><circle cx="779.8" cy="1005.2" r="2.35"/><circle cx="779.6" cy="1009.2" r="2.35"/><circle cx="779.2" cy="1007.9" r="2.35"/><circle cx="781.8" cy="1006.2" r="2.35"/><circle cx="781.5" cy="1013.1" r="2.35"/><circle cx="778.7" cy="1008.4" r="2.35"/><circle cx="779.4" cy="1008.2" r="2.35"/><circle cx="781.7" cy="1009.4" r="2.35"/><circle cx="782.0" cy="1017.2" r="2.35"/><circle cx="779.6" cy="1014.9" r="2.35"/><circle cx="779.5" cy="1018.3" r="2.35"/><circle cx="781.3" cy="1017.4" r="2.35"/><circle cx="782.7" cy="1020.2" r="2.35"/><circle cx="782.4" cy="1020.4" r="2.35"/><circle cx="782.5" cy="1021.8" r="2.35"/><circle cx="782.0" cy="1022.9" r="2.35"/><circle cx="781.3" cy="1023.0" r="2.35"/><circle cx="786.6" cy="1025.4" r="2.35"/><circle cx="782.8" cy="1026.9" r="2.35"/><circle cx="783.5" cy="1024.3" r="2.35"/><circle cx="784.1" cy="1030.3" r="2.35"/><circle cx="785.8" cy="1029.9" r="2.35"/><circle cx="784.4" cy="1029.1" r="2.35"/><circle cx="787.7" cy="1033.0" r="2.35"/><circle cx="785.0" cy="1029.5" r="2.35"/><circle cx="784.8" cy="1039.8" r="2.35"/><circle cx="785.3" cy="1036.0" r="2.35"/><circle cx="787.4" cy="1037.0" r="2.35"/><circle cx="787.1" cy="1035.8" r="2.35"/><circle cx="786.4" cy="1043.1" r="2.35"/><circle cx="787.1" cy="1042.7" r="2.35"/><circle cx="786.2" cy="1039.8" r="2.35"/><circle cx="789.2" cy="1041.2" r="2.35"/><circle cx="787.8" cy="1039.2" r="2.35"/><circle cx="790.1" cy="1035.3" r="2.35"/><circle cx="790.6" cy="1033.8" r="2.35"/><circle cx="789.4" cy="1034.4" r="2.35"/><circle cx="787.3" cy="1033.0" r="2.35"/><circle cx="789.9" cy="1029.1" r="2.35"/><circle cx="791.0" cy="1032.4" r="2.35"/><circle cx="791.4" cy="1032.2" r="2.35"/><circle cx="790.8" cy="1025.8" r="2.35"/><circle cx="794.6" cy="1028.0" r="2.35"/><circle cx="794.1" cy="1024.4" r="2.35"/><circle cx="794.2" cy="1025.3" r="2.35"/><circle cx="794.3" cy="1023.7" r="2.35"/><circle cx="795.3" cy="1021.1" r="2.35"/><circle cx="792.8" cy="1018.2" r="2.35"/><circle cx="795.9" cy="1018.5" r="2.35"/><circle cx="793.3" cy="1016.9" r="2.35"/><circle cx="794.3" cy="1015.0" r="2.35"/><circle cx="794.8" cy="1015.0" r="2.35"/><circle cx="794.8" cy="1013.2" r="2.35"/><circle cx="795.8" cy="1012.9" r="2.35"/><circle cx="796.2" cy="1013.2" r="2.35"/><circle cx="796.8" cy="1007.1" r="2.35"/><circle cx="795.9" cy="1008.6" r="2.35"/><circle cx="797.9" cy="1005.8" r="2.35"/><circle cx="796.3" cy="1007.2" r="2.35"/><circle cx="797.1" cy="1008.6" r="2.35"/><circle cx="797.5" cy="1009.6" r="2.35"/><circle cx="796.8" cy="1005.1" r="2.35"/><circle cx="800.9" cy="1010.7" r="2.35"/><circle cx="800.5" cy="1011.2" r="2.35"/><circle cx="801.1" cy="1009.6" r="2.35"/><circle cx="802.3" cy="1012.1" r="2.35"/><circle cx="803.0" cy="1014.4" r="2.35"/><circle cx="799.7" cy="1012.8" r="2.35"/><circle cx="804.3" cy="1016.2" r="2.35"/><circle cx="802.9" cy="1018.0" r="2.35"/><circle cx="803.5" cy="1017.6" r="2.35"/><circle cx="804.7" cy="1020.1" r="2.35"/><circle cx="807.1" cy="1021.0" r="2.35"/><circle cx="808.1" cy="1025.6" r="2.35"/><circle cx="808.5" cy="1025.3" r="2.35"/><circle cx="807.0" cy="1024.5" r="2.35"/><circle cx="807.0" cy="1024.0" r="2.35"/><circle cx="807.4" cy="1025.4" r="2.35"/><circle cx="810.0" cy="1028.9" r="2.35"/><circle cx="807.6" cy="1025.2" r="2.35"/><circle cx="808.5" cy="1029.4" r="2.35"/><circle cx="807.4" cy="1028.1" r="2.35"/><circle cx="806.1" cy="1030.3" r="2.35"/><circle cx="809.1" cy="1033.1" r="2.35"/><circle cx="809.4" cy="1026.4" r="2.35"/><circle cx="811.5" cy="1025.7" r="2.35"/><circle cx="810.0" cy="1023.5" r="2.35"/><circle cx="809.2" cy="1026.0" r="2.35"/><circle cx="811.5" cy="1025.2" r="2.35"/><circle cx="810.0" cy="1020.6" r="2.35"/><circle cx="809.5" cy="1021.2" r="2.35"/><circle cx="809.0" cy="1019.2" r="2.35"/><circle cx="812.4" cy="1019.7" r="2.35"/><circle cx="810.0" cy="1017.8" r="2.35"/><circle cx="810.5" cy="1012.8" r="2.35"/><circle cx="809.9" cy="1015.4" r="2.35"/><circle cx="813.9" cy="1010.7" r="2.35"/><circle cx="811.0" cy="1010.0" r="2.35"/><circle cx="815.4" cy="1011.4" r="2.35"/><circle cx="811.7" cy="1004.6" r="2.35"/><circle cx="811.8" cy="1010.4" r="2.35"/><circle cx="815.4" cy="1008.7" r="2.35"/><circle cx="812.4" cy="1009.4" r="2.35"/><circle cx="811.2" cy="1013.5" r="2.35"/><circle cx="812.5" cy="1015.0" r="2.35"/><circle cx="812.1" cy="1011.5" r="2.35"/><circle cx="815.0" cy="1013.7" r="2.35"/><circle cx="816.0" cy="1016.5" r="2.35"/><circle cx="813.7" cy="1018.9" r="2.35"/><circle cx="816.5" cy="1015.1" r="2.35"/><circle cx="817.9" cy="1021.2" r="2.35"/><circle cx="816.6" cy="1017.7" r="2.35"/><circle cx="814.8" cy="1022.0" r="2.35"/><circle cx="817.3" cy="1021.0" r="2.35"/><circle cx="814.8" cy="1021.1" r="2.35"/><circle cx="815.8" cy="1027.1" r="2.35"/><circle cx="814.0" cy="1026.5" r="2.35"/><circle cx="817.0" cy="1032.0" r="2.35"/><circle cx="817.5" cy="1029.5" r="2.35"/><circle cx="815.3" cy="1029.5" r="2.35"/><circle cx="816.2" cy="1032.8" r="2.35"/><circle cx="817.2" cy="1037.1" r="2.35"/><circle cx="817.9" cy="1032.9" r="2.35"/><circle cx="819.8" cy="1038.1" r="2.35"/><circle cx="818.1" cy="1036.0" r="2.35"/><circle cx="815.8" cy="1036.7" r="2.35"/><circle cx="819.6" cy="1038.3" r="2.35"/><circle cx="817.0" cy="1041.5" r="2.35"/><circle cx="819.2" cy="1043.6" r="2.35"/><circle cx="820.0" cy="1045.5" r="2.35"/><circle cx="818.3" cy="1043.4" r="2.35"/><circle cx="818.3" cy="1041.6" r="2.35"/><circle cx="820.0" cy="1039.4" r="2.35"/><circle cx="821.2" cy="1037.7" r="2.35"/><circle cx="821.6" cy="1038.2" r="2.35"/><circle cx="820.5" cy="1034.1" r="2.35"/><circle cx="819.6" cy="1032.9" r="2.35"/><circle cx="820.5" cy="1032.7" r="2.35"/><circle cx="824.9" cy="1032.8" r="2.35"/><circle cx="822.2" cy="1028.6" r="2.35"/><circle cx="820.5" cy="1028.4" r="2.35"/><circle cx="821.9" cy="1025.8" r="2.35"/><circle cx="823.9" cy="1025.5" r="2.35"/><circle cx="823.5" cy="1022.4" r="2.35"/><circle cx="822.3" cy="1028.9" r="2.35"/><circle cx="822.9" cy="1030.8" r="2.35"/><circle cx="823.2" cy="1031.1" r="2.35"/><circle cx="820.7" cy="1030.6" r="2.35"/><circle cx="820.4" cy="1034.5" r="2.35"/><circle cx="824.1" cy="1034.0" r="2.35"/><circle cx="822.9" cy="1034.5" r="2.35"/><circle cx="826.6" cy="1040.3" r="2.35"/><circle cx="824.4" cy="1040.7" r="2.35"/><circle cx="822.7" cy="1035.4" r="2.35"/><circle cx="824.4" cy="1038.8" r="2.35"/><circle cx="824.6" cy="1042.1" r="2.35"/><circle cx="829.5" cy="1041.7" r="2.35"/><circle cx="826.7" cy="1044.2" r="2.35"/><circle cx="827.7" cy="1046.0" r="2.35"/><circle cx="831.2" cy="1042.2" r="2.35"/><circle cx="829.8" cy="1043.9" r="2.35"/><circle cx="830.5" cy="1040.2" r="2.35"/><circle cx="828.3" cy="1037.4" r="2.35"/><circle cx="831.7" cy="1041.3" r="2.35"/><circle cx="831.6" cy="1035.0" r="2.35"/><circle cx="831.5" cy="1037.1" r="2.35"/><circle cx="830.6" cy="1035.6" r="2.35"/><circle cx="833.8" cy="1037.3" r="2.35"/><circle cx="833.2" cy="1036.1" r="2.35"/><circle cx="832.7" cy="1034.0" r="2.35"/><circle cx="833.8" cy="1033.7" r="2.35"/><circle cx="833.9" cy="1031.1" r="2.35"/><circle cx="834.1" cy="1028.9" r="2.35"/><circle cx="837.5" cy="1030.0" r="2.35"/><circle cx="835.4" cy="1032.3" r="2.35"/><circle cx="836.9" cy="1023.4" r="2.35"/><circle cx="836.2" cy="1027.0" r="2.35"/><circle cx="838.0" cy="1026.7" r="2.35"/><circle cx="836.9" cy="1020.5" r="2.35"/><circle cx="834.9" cy="1022.2" r="2.35"/><circle cx="836.9" cy="1018.3" r="2.35"/><circle cx="835.9" cy="1018.3" r="2.35"/><circle cx="836.7" cy="1018.6" r="2.35"/><circle cx="836.4" cy="1014.2" r="2.35"/><circle cx="838.6" cy="1018.6" r="2.35"/><circle cx="837.0" cy="1016.2" r="2.35"/><circle cx="837.9" cy="1014.3" r="2.35"/><circle cx="838.1" cy="1010.2" r="2.35"/><circle cx="838.4" cy="1012.5" r="2.35"/><circle cx="836.7" cy="1013.4" r="2.35"/><circle cx="840.8" cy="1014.4" r="2.35"/><circle cx="840.9" cy="1013.4" r="2.35"/><circle cx="838.2" cy="1012.0" r="2.35"/><circle cx="837.8" cy="1014.6" r="2.35"/><circle cx="839.1" cy="1017.0" r="2.35"/><circle cx="836.8" cy="1021.5" r="2.35"/><circle cx="842.6" cy="1018.0" r="2.35"/><circle cx="840.8" cy="1020.2" r="2.35"/><circle cx="840.5" cy="1020.1" r="2.35"/><circle cx="840.3" cy="1020.1" r="2.35"/><circle cx="841.0" cy="1022.9" r="2.35"/><circle cx="841.7" cy="1022.4" r="2.35"/><circle cx="841.8" cy="1025.3" r="2.35"/><circle cx="843.1" cy="1024.2" r="2.35"/><circle cx="843.3" cy="1029.5" r="2.35"/><circle cx="844.0" cy="1027.9" r="2.35"/><circle cx="843.1" cy="1029.3" r="2.35"/><circle cx="845.2" cy="1034.1" r="2.35"/><circle cx="844.5" cy="1030.8" r="2.35"/><circle cx="845.7" cy="1033.7" r="2.35"/><circle cx="844.5" cy="1032.9" r="2.35"/><circle cx="846.1" cy="1036.9" r="2.35"/><circle cx="844.8" cy="1032.4" r="2.35"/><circle cx="847.2" cy="1030.8" r="2.35"/><circle cx="846.8" cy="1032.7" r="2.35"/><circle cx="846.6" cy="1028.7" r="2.35"/><circle cx="846.9" cy="1028.8" r="2.35"/><circle cx="847.5" cy="1026.6" r="2.35"/><circle cx="848.6" cy="1023.6" r="2.35"/><circle cx="847.1" cy="1025.8" r="2.35"/><circle cx="848.7" cy="1023.3" r="2.35"/><circle cx="848.3" cy="1022.1" r="2.35"/><circle cx="848.7" cy="1025.5" r="2.35"/><circle cx="847.4" cy="1021.7" r="2.35"/><circle cx="846.8" cy="1021.5" r="2.35"/><circle cx="850.0" cy="1018.5" r="2.35"/><circle cx="847.7" cy="1018.2" r="2.35"/><circle cx="851.4" cy="1018.6" r="2.35"/><circle cx="851.7" cy="1011.7" r="2.35"/><circle cx="850.5" cy="1017.2" r="2.35"/><circle cx="850.5" cy="1015.6" r="2.35"/><circle cx="855.3" cy="1013.9" r="2.35"/><circle cx="855.1" cy="1010.7" r="2.35"/><circle cx="852.4" cy="1012.1" r="2.35"/><circle cx="854.1" cy="1013.4" r="2.35"/><circle cx="855.5" cy="1014.4" r="2.35"/><circle cx="855.2" cy="1016.8" r="2.35"/><circle cx="855.2" cy="1020.8" r="2.35"/><circle cx="856.1" cy="1018.5" r="2.35"/><circle cx="855.6" cy="1018.3" r="2.35"/><circle cx="857.9" cy="1021.1" r="2.35"/><circle cx="855.0" cy="1020.9" r="2.35"/><circle cx="856.6" cy="1022.3" r="2.35"/><circle cx="858.4" cy="1022.1" r="2.35"/><circle cx="858.0" cy="1025.9" r="2.35"/><circle cx="856.1" cy="1027.0" r="2.35"/><circle cx="857.7" cy="1029.1" r="2.35"/><circle cx="857.4" cy="1029.9" r="2.35"/><circle cx="856.0" cy="1028.4" r="2.35"/><circle cx="859.4" cy="1033.9" r="2.35"/><circle cx="858.6" cy="1031.8" r="2.35"/><circle cx="860.2" cy="1030.1" r="2.35"/><circle cx="858.0" cy="1036.8" r="2.35"/><circle cx="860.1" cy="1034.7" r="2.35"/><circle cx="857.0" cy="1040.0" r="2.35"/><circle cx="860.0" cy="1034.0" r="2.35"/><circle cx="860.2" cy="1036.4" r="2.35"/><circle cx="857.0" cy="1035.6" r="2.35"/><circle cx="861.7" cy="1028.0" r="2.35"/><circle cx="862.0" cy="1027.4" r="2.35"/><circle cx="862.8" cy="1030.6" r="2.35"/><circle cx="864.5" cy="1027.3" r="2.35"/><circle cx="861.9" cy="1029.4" r="2.35"/><circle cx="861.4" cy="1024.9" r="2.35"/><circle cx="862.5" cy="1027.2" r="2.35"/><circle cx="862.3" cy="1029.4" r="2.35"/><circle cx="865.1" cy="1029.6" r="2.35"/><circle cx="867.3" cy="1029.8" r="2.35"/><circle cx="867.5" cy="1030.4" r="2.35"/><circle cx="867.5" cy="1028.6" r="2.35"/><circle cx="867.5" cy="1033.2" r="2.35"/><circle cx="867.3" cy="1033.3" r="2.35"/><circle cx="868.2" cy="1034.1" r="2.35"/><circle cx="865.5" cy="1035.5" r="2.35"/><circle cx="867.3" cy="1036.9" r="2.35"/><circle cx="866.2" cy="1038.8" r="2.35"/><circle cx="868.2" cy="1039.8" r="2.35"/><circle cx="866.2" cy="1044.2" r="2.35"/><circle cx="867.7" cy="1044.5" r="2.35"/><circle cx="867.5" cy="1043.2" r="2.35"/><circle cx="865.4" cy="1047.3" r="2.35"/><circle cx="864.5" cy="1046.0" r="2.35"/><circle cx="865.5" cy="1048.2" r="2.35"/><circle cx="864.6" cy="1050.7" r="2.35"/><circle cx="864.8" cy="1051.4" r="2.35"/><circle cx="866.4" cy="1052.5" r="2.35"/><circle cx="865.9" cy="1050.1" r="2.35"/><circle cx="863.3" cy="1052.5" r="2.35"/><circle cx="865.6" cy="1057.9" r="2.35"/><circle cx="863.4" cy="1056.8" r="2.35"/><circle cx="863.9" cy="1055.5" r="2.35"/><circle cx="865.0" cy="1057.1" r="2.35"/><circle cx="866.0" cy="1056.9" r="2.35"/><circle cx="864.7" cy="1055.1" r="2.35"/><circle cx="867.5" cy="1052.2" r="2.35"/><circle cx="867.3" cy="1049.8" r="2.35"/><circle cx="865.5" cy="1048.9" r="2.35"/><circle cx="866.4" cy="1054.3" r="2.35"/><circle cx="867.0" cy="1050.6" r="2.35"/><circle cx="868.2" cy="1046.7" r="2.35"/><circle cx="869.2" cy="1043.3" r="2.35"/><circle cx="869.7" cy="1044.4" r="2.35"/><circle cx="866.9" cy="1043.6" r="2.35"/><circle cx="869.9" cy="1042.1" r="2.35"/><circle cx="871.5" cy="1039.2" r="2.35"/><circle cx="870.5" cy="1040.3" r="2.35"/><circle cx="868.9" cy="1040.0" r="2.35"/><circle cx="868.5" cy="1033.8" r="2.35"/><circle cx="871.4" cy="1033.0" r="2.35"/><circle cx="870.8" cy="1030.7" r="2.35"/><circle cx="871.3" cy="1030.5" r="2.35"/><circle cx="871.9" cy="1028.4" r="2.35"/><circle cx="872.3" cy="1029.7" r="2.35"/><circle cx="872.1" cy="1028.9" r="2.35"/><circle cx="872.5" cy="1025.2" r="2.35"/><circle cx="869.2" cy="1026.7" r="2.35"/><circle cx="871.6" cy="1024.5" r="2.35"/><circle cx="873.6" cy="1020.2" r="2.35"/><circle cx="872.3" cy="1021.7" r="2.35"/><circle cx="872.4" cy="1022.4" r="2.35"/><circle cx="874.2" cy="1019.0" r="2.35"/><circle cx="873.6" cy="1021.2" r="2.35"/><circle cx="874.6" cy="1019.6" r="2.35"/><circle cx="876.6" cy="1013.5" r="2.35"/><circle cx="875.2" cy="1016.2" r="2.35"/><circle cx="877.6" cy="1016.6" r="2.35"/><circle cx="877.1" cy="1017.1" r="2.35"/><circle cx="876.2" cy="1015.5" r="2.35"/><circle cx="878.4" cy="1016.1" r="2.35"/><circle cx="879.5" cy="1014.8" r="2.35"/><circle cx="879.7" cy="1018.6" r="2.35"/><circle cx="877.1" cy="1021.9" r="2.35"/><circle cx="880.8" cy="1021.0" r="2.35"/><circle cx="879.7" cy="1021.0" r="2.35"/><circle cx="883.7" cy="1021.4" r="2.35"/><circle cx="877.6" cy="1022.5" r="2.35"/><circle cx="881.0" cy="1025.1" r="2.35"/><circle cx="882.4" cy="1024.7" r="2.35"/><circle cx="882.2" cy="1029.9" r="2.35"/><circle cx="881.8" cy="1032.9" r="2.35"/><circle cx="883.4" cy="1027.9" r="2.35"/><circle cx="885.5" cy="1032.4" r="2.35"/><circle cx="883.5" cy="1034.0" r="2.35"/><circle cx="882.9" cy="1031.8" r="2.35"/><circle cx="887.3" cy="1034.3" r="2.35"/><circle cx="884.7" cy="1037.0" r="2.35"/><circle cx="888.2" cy="1037.0" r="2.35"/><circle cx="885.2" cy="1037.5" r="2.35"/><circle cx="888.6" cy="1040.8" r="2.35"/><circle cx="891.0" cy="1039.9" r="2.35"/><circle cx="888.6" cy="1041.4" r="2.35"/><circle cx="891.3" cy="1040.8" r="2.35"/><circle cx="892.2" cy="1038.1" r="2.35"/><circle cx="892.4" cy="1043.2" r="2.35"/><circle cx="892.9" cy="1046.8" r="2.35"/><circle cx="891.6" cy="1046.1" r="2.35"/><circle cx="894.1" cy="1047.7" r="2.35"/><circle cx="892.8" cy="1043.3" r="2.35"/><circle cx="891.7" cy="1049.1" r="2.35"/><circle cx="894.2" cy="1042.3" r="2.35"/><circle cx="892.7" cy="1043.4" r="2.35"/><circle cx="894.1" cy="1043.2" r="2.35"/><circle cx="896.2" cy="1039.1" r="2.35"/><circle cx="896.2" cy="1035.6" r="2.35"/><circle cx="895.0" cy="1035.5" r="2.35"/><circle cx="894.0" cy="1035.4" r="2.35"/><circle cx="895.6" cy="1037.0" r="2.35"/><circle cx="891.5" cy="1031.5" r="2.35"/><circle cx="894.8" cy="1030.7" r="2.35"/><circle cx="896.7" cy="1031.2" r="2.35"/><circle cx="896.3" cy="1028.2" r="2.35"/><circle cx="897.0" cy="1028.6" r="2.35"/><circle cx="894.1" cy="1026.1" r="2.35"/><circle cx="894.9" cy="1024.7" r="2.35"/><circle cx="897.2" cy="1028.4" r="2.35"/><circle cx="897.4" cy="1027.8" r="2.35"/><circle cx="897.2" cy="1028.9" r="2.35"/><circle cx="898.2" cy="1033.3" r="2.35"/><circle cx="900.2" cy="1035.7" r="2.35"/><circle cx="897.1" cy="1033.5" r="2.35"/><circle cx="897.2" cy="1036.2" r="2.35"/><circle cx="901.3" cy="1038.3" r="2.35"/><circle cx="896.1" cy="1035.6" r="2.35"/><circle cx="897.5" cy="1040.3" r="2.35"/><circle cx="899.5" cy="1041.1" r="2.35"/><circle cx="902.4" cy="1040.0" r="2.35"/><circle cx="899.5" cy="1046.7" r="2.35"/><circle cx="901.6" cy="1042.3" r="2.35"/><circle cx="899.1" cy="1041.9" r="2.35"/><circle cx="899.1" cy="1046.2" r="2.35"/><circle cx="902.9" cy="1049.2" r="2.35"/><circle cx="903.2" cy="1047.0" r="2.35"/><circle cx="903.0" cy="1053.3" r="2.35"/><circle cx="902.5" cy="1049.3" r="2.35"/><circle cx="905.7" cy="1049.3" r="2.35"/><circle cx="906.0" cy="1048.2" r="2.35"/><circle cx="908.5" cy="1046.0" r="2.35"/><circle cx="907.7" cy="1045.1" r="2.35"/><circle cx="908.1" cy="1044.3" r="2.35"/><circle cx="910.0" cy="1044.6" r="2.35"/><circle cx="913.3" cy="1046.2" r="2.35"/><circle cx="912.0" cy="1044.5" r="2.35"/><circle cx="913.3" cy="1046.0" r="2.35"/><circle cx="913.4" cy="1046.2" r="2.35"/><circle cx="913.1" cy="1045.3" r="2.35"/><circle cx="915.3" cy="1050.6" r="2.35"/><circle cx="915.4" cy="1050.1" r="2.35"/><circle cx="915.3" cy="1049.5" r="2.35"/><circle cx="913.0" cy="1052.9" r="2.35"/><circle cx="916.0" cy="1051.7" r="2.35"/><circle cx="914.9" cy="1056.5" r="2.35"/><circle cx="914.0" cy="1057.1" r="2.35"/><circle cx="917.2" cy="1057.0" r="2.35"/><circle cx="915.5" cy="1051.0" r="2.35"/><circle cx="915.9" cy="1050.1" r="2.35"/><circle cx="916.3" cy="1047.1" r="2.35"/><circle cx="918.1" cy="1045.7" r="2.35"/><circle cx="916.1" cy="1047.2" r="2.35"/><circle cx="916.1" cy="1043.9" r="2.35"/><circle cx="917.4" cy="1042.8" r="2.35"/><circle cx="915.4" cy="1042.1" r="2.35"/><circle cx="916.8" cy="1044.5" r="2.35"/><circle cx="915.7" cy="1041.8" r="2.35"/><circle cx="916.4" cy="1037.9" r="2.35"/><circle cx="917.4" cy="1038.0" r="2.35"/><circle cx="919.3" cy="1039.7" r="2.35"/><circle cx="917.8" cy="1037.7" r="2.35"/><circle cx="920.3" cy="1035.5" r="2.35"/><circle cx="918.4" cy="1034.5" r="2.35"/><circle cx="919.7" cy="1032.2" r="2.35"/><circle cx="919.9" cy="1032.9" r="2.35"/><circle cx="922.2" cy="1034.9" r="2.35"/><circle cx="921.0" cy="1035.8" r="2.35"/><circle cx="923.6" cy="1033.1" r="2.35"/><circle cx="924.1" cy="1033.5" r="2.35"/><circle cx="923.4" cy="1038.5" r="2.35"/><circle cx="925.1" cy="1039.0" r="2.35"/><circle cx="923.0" cy="1038.0" r="2.35"/><circle cx="922.4" cy="1042.3" r="2.35"/><circle cx="924.2" cy="1040.5" r="2.35"/><circle cx="925.6" cy="1041.6" r="2.35"/><circle cx="924.8" cy="1043.4" r="2.35"/><circle cx="927.7" cy="1048.4" r="2.35"/><circle cx="925.2" cy="1043.6" r="2.35"/><circle cx="925.6" cy="1048.1" r="2.35"/><circle cx="925.5" cy="1050.3" r="2.35"/><circle cx="924.5" cy="1052.3" r="2.35"/><circle cx="925.9" cy="1052.1" r="2.35"/><circle cx="924.2" cy="1052.0" r="2.35"/><circle cx="925.8" cy="1052.0" r="2.35"/><circle cx="924.8" cy="1053.9" r="2.35"/><circle cx="923.3" cy="1057.9" r="2.35"/><circle cx="925.2" cy="1058.0" r="2.35"/><circle cx="926.5" cy="1056.2" r="2.35"/><circle cx="925.4" cy="1061.0" r="2.35"/><circle cx="926.7" cy="1059.5" r="2.35"/><circle cx="926.2" cy="1063.3" r="2.35"/><circle cx="926.6" cy="1066.3" r="2.35"/><circle cx="925.1" cy="1069.5" r="2.35"/><circle cx="923.9" cy="1065.5" r="2.35"/><circle cx="923.1" cy="1065.6" r="2.35"/><circle cx="923.0" cy="1064.9" r="2.35"/><circle cx="923.1" cy="1069.9" r="2.35"/><circle cx="925.5" cy="1067.6" r="2.35"/><circle cx="927.0" cy="1066.2" r="2.35"/><circle cx="926.0" cy="1063.0" r="2.35"/><circle cx="926.1" cy="1064.3" r="2.35"/><circle cx="929.9" cy="1067.2" r="2.35"/><circle cx="927.5" cy="1068.1" r="2.35"/><circle cx="930.4" cy="1067.5" r="2.35"/><circle cx="930.7" cy="1068.2" r="2.35"/><circle cx="930.9" cy="1066.2" r="2.35"/><circle cx="932.3" cy="1073.1" r="2.35"/><circle cx="935.2" cy="1070.9" r="2.35"/><circle cx="933.4" cy="1071.8" r="2.35"/><circle cx="936.5" cy="1073.6" r="2.35"/><circle cx="935.6" cy="1074.4" r="2.35"/><circle cx="936.9" cy="1074.5" r="2.35"/><circle cx="937.3" cy="1069.6" r="2.35"/><circle cx="938.5" cy="1072.8" r="2.35"/><circle cx="937.6" cy="1070.1" r="2.35"/><circle cx="940.8" cy="1068.5" r="2.35"/><circle cx="939.5" cy="1072.1" r="2.35"/><circle cx="941.8" cy="1069.0" r="2.35"/><circle cx="939.9" cy="1068.9" r="2.35"/><circle cx="939.3" cy="1063.5" r="2.35"/><circle cx="942.6" cy="1065.9" r="2.35"/><circle cx="940.8" cy="1060.8" r="2.35"/><circle cx="942.5" cy="1057.1" r="2.35"/><circle cx="943.5" cy="1060.8" r="2.35"/><circle cx="942.8" cy="1059.7" r="2.35"/><circle cx="945.0" cy="1058.2" r="2.35"/><circle cx="945.4" cy="1059.5" r="2.35"/><circle cx="944.9" cy="1055.9" r="2.35"/><circle cx="945.5" cy="1056.5" r="2.35"/><circle cx="946.3" cy="1056.2" r="2.35"/><circle cx="947.7" cy="1056.4" r="2.35"/><circle cx="950.4" cy="1057.2" r="2.35"/><circle cx="950.7" cy="1060.0" r="2.35"/><circle cx="951.3" cy="1059.1" r="2.35"/><circle cx="951.5" cy="1061.9" r="2.35"/><circle cx="950.2" cy="1062.0" r="2.35"/><circle cx="951.5" cy="1062.5" r="2.35"/><circle cx="954.0" cy="1062.2" r="2.35"/><circle cx="951.0" cy="1061.3" r="2.35"/><circle cx="953.2" cy="1064.4" r="2.35"/><circle cx="954.1" cy="1068.0" r="2.35"/><circle cx="956.5" cy="1068.7" r="2.35"/><circle cx="955.2" cy="1067.9" r="2.35"/><circle cx="955.6" cy="1073.2" r="2.35"/><circle cx="956.8" cy="1068.0" r="2.35"/><circle cx="956.6" cy="1076.0" r="2.35"/><circle cx="956.8" cy="1071.3" r="2.35"/><circle cx="955.6" cy="1076.5" r="2.35"/><circle cx="956.8" cy="1075.1" r="2.35"/><circle cx="955.5" cy="1079.6" r="2.35"/><circle cx="955.1" cy="1079.3" r="2.35"/><circle cx="957.1" cy="1075.9" r="2.35"/><circle cx="955.6" cy="1072.9" r="2.35"/><circle cx="958.4" cy="1070.0" r="2.35"/><circle cx="960.4" cy="1068.9" r="2.35"/><circle cx="956.5" cy="1070.5" r="2.35"/><circle cx="958.9" cy="1070.6" r="2.35"/><circle cx="958.1" cy="1067.6" r="2.35"/><circle cx="958.5" cy="1065.6" r="2.35"/><circle cx="955.8" cy="1067.4" r="2.35"/><circle cx="959.6" cy="1064.6" r="2.35"/><circle cx="958.8" cy="1063.6" r="2.35"/><circle cx="959.9" cy="1061.7" r="2.35"/><circle cx="961.7" cy="1057.4" r="2.35"/><circle cx="961.0" cy="1057.4" r="2.35"/><circle cx="960.7" cy="1061.2" r="2.35"/><circle cx="960.1" cy="1056.9" r="2.35"/><circle cx="961.0" cy="1057.7" r="2.35"/><circle cx="960.9" cy="1051.5" r="2.35"/><circle cx="963.2" cy="1052.8" r="2.35"/><circle cx="962.5" cy="1054.4" r="2.35"/><circle cx="962.1" cy="1051.3" r="2.35"/><circle cx="963.6" cy="1054.0" r="2.35"/><circle cx="962.9" cy="1056.5" r="2.35"/><circle cx="966.6" cy="1054.9" r="2.35"/><circle cx="966.3" cy="1052.9" r="2.35"/><circle cx="965.9" cy="1057.5" r="2.35"/><circle cx="964.5" cy="1058.8" r="2.35"/><circle cx="963.7" cy="1058.2" r="2.35"/><circle cx="964.2" cy="1064.4" r="2.35"/><circle cx="966.3" cy="1062.5" r="2.35"/><circle cx="964.5" cy="1063.0" r="2.35"/><circle cx="964.0" cy="1069.0" r="2.35"/><circle cx="966.7" cy="1067.0" r="2.35"/><circle cx="965.6" cy="1066.0" r="2.35"/><circle cx="968.3" cy="1070.6" r="2.35"/><circle cx="965.8" cy="1072.2" r="2.35"/><circle cx="965.9" cy="1072.8" r="2.35"/><circle cx="966.5" cy="1071.9" r="2.35"/><circle cx="968.6" cy="1073.1" r="2.35"/><circle cx="969.4" cy="1069.5" r="2.35"/><circle cx="970.3" cy="1072.4" r="2.35"/><circle cx="968.5" cy="1069.5" r="2.35"/><circle cx="967.7" cy="1067.1" r="2.35"/><circle cx="967.2" cy="1066.3" r="2.35"/><circle cx="969.3" cy="1067.5" r="2.35"/><circle cx="970.4" cy="1065.2" r="2.35"/><circle cx="969.0" cy="1062.0" r="2.35"/><circle cx="969.2" cy="1061.6" r="2.35"/><circle cx="967.4" cy="1061.4" r="2.35"/><circle cx="968.0" cy="1057.7" r="2.35"/><circle cx="970.2" cy="1056.5" r="2.35"/><circle cx="972.4" cy="1056.0" r="2.35"/><circle cx="972.5" cy="1057.2" r="2.35"/><circle cx="970.1" cy="1054.5" r="2.35"/><circle cx="972.4" cy="1051.9" r="2.35"/><circle cx="971.0" cy="1050.2" r="2.35"/><circle cx="971.1" cy="1049.3" r="2.35"/><circle cx="971.2" cy="1050.7" r="2.35"/><circle cx="972.9" cy="1047.8" r="2.35"/><circle cx="971.5" cy="1047.9" r="2.35"/><circle cx="971.0" cy="1043.0" r="2.35"/><circle cx="972.9" cy="1042.0" r="2.35"/><circle cx="972.8" cy="1041.8" r="2.35"/><circle cx="974.1" cy="1042.9" r="2.35"/><circle cx="973.1" cy="1049.0" r="2.35"/><circle cx="971.1" cy="1050.2" r="2.35"/><circle cx="971.4" cy="1045.2" r="2.35"/><circle cx="973.6" cy="1051.2" r="2.35"/><circle cx="972.6" cy="1046.2" r="2.35"/><circle cx="973.0" cy="1051.7" r="2.35"/><circle cx="972.8" cy="1053.0" r="2.35"/><circle cx="971.3" cy="1053.7" r="2.35"/><circle cx="976.2" cy="1058.9" r="2.35"/><circle cx="973.8" cy="1055.8" r="2.35"/><circle cx="975.1" cy="1060.4" r="2.35"/><circle cx="975.9" cy="1057.3" r="2.35"/><circle cx="975.6" cy="1061.0" r="2.35"/><circle cx="977.5" cy="1064.3" r="2.35"/><circle cx="976.7" cy="1065.5" r="2.35"/><circle cx="976.0" cy="1067.3" r="2.35"/><circle cx="976.4" cy="1066.3" r="2.35"/><circle cx="978.6" cy="1064.9" r="2.35"/><circle cx="977.0" cy="1064.4" r="2.35"/><circle cx="978.5" cy="1068.9" r="2.35"/><circle cx="978.4" cy="1071.1" r="2.35"/><circle cx="976.6" cy="1071.3" r="2.35"/><circle cx="979.8" cy="1072.0" r="2.35"/><circle cx="981.3" cy="1077.0" r="2.35"/><circle cx="980.3" cy="1072.9" r="2.35"/><circle cx="980.8" cy="1075.9" r="2.35"/><circle cx="982.9" cy="1075.2" r="2.35"/><circle cx="984.0" cy="1076.0" r="2.35"/><circle cx="984.4" cy="1079.8" r="2.35"/><circle cx="984.5" cy="1083.4" r="2.35"/><circle cx="984.1" cy="1077.8" r="2.35"/><circle cx="985.6" cy="1078.6" r="2.35"/><circle cx="983.8" cy="1076.3" r="2.35"/><circle cx="985.0" cy="1075.9" r="2.35"/><circle cx="988.2" cy="1073.6" r="2.35"/><circle cx="986.9" cy="1072.7" r="2.35"/><circle cx="983.8" cy="1072.7" r="2.35"/><circle cx="988.8" cy="1070.5" r="2.35"/><circle cx="988.3" cy="1067.7" r="2.35"/><circle cx="989.2" cy="1070.4" r="2.35"/><circle cx="989.9" cy="1069.5" r="2.35"/><circle cx="987.5" cy="1065.0" r="2.35"/><circle cx="991.7" cy="1064.8" r="2.35"/><circle cx="989.9" cy="1062.5" r="2.35"/><circle cx="994.2" cy="1060.2" r="2.35"/><circle cx="992.0" cy="1059.5" r="2.35"/><circle cx="993.2" cy="1061.7" r="2.35"/><circle cx="995.2" cy="1055.5" r="2.35"/><circle cx="996.9" cy="1057.2" r="2.35"/><circle cx="995.0" cy="1060.4" r="2.35"/><circle cx="996.2" cy="1053.7" r="2.35"/><circle cx="996.1" cy="1053.6" r="2.35"/><circle cx="996.3" cy="1053.3" r="2.35"/><circle cx="999.1" cy="1054.8" r="2.35"/><circle cx="996.6" cy="1060.6" r="2.35"/><circle cx="997.4" cy="1056.7" r="2.35"/><circle cx="999.0" cy="1059.2" r="2.35"/><circle cx="998.9" cy="1059.8" r="2.35"/><circle cx="1002.3" cy="1060.3" r="2.35"/><circle cx="998.6" cy="1061.9" r="2.35"/><circle cx="999.3" cy="1061.8" r="2.35"/><circle cx="1000.9" cy="1064.4" r="2.35"/><circle cx="1000.4" cy="1066.6" r="2.35"/><circle cx="1000.7" cy="1063.7" r="2.35"/><circle cx="1002.2" cy="1066.7" r="2.35"/><circle cx="1002.8" cy="1067.4" r="2.35"/><circle cx="1002.2" cy="1070.5" r="2.35"/><circle cx="998.3" cy="1068.3" r="2.35"/><circle cx="1000.5" cy="1075.1" r="2.35"/><circle cx="999.7" cy="1075.4" r="2.35"/><circle cx="1003.6" cy="1075.8" r="2.35"/><circle cx="1003.2" cy="1075.1" r="2.35"/><circle cx="1002.7" cy="1076.9" r="2.35"/><circle cx="1003.9" cy="1076.8" r="2.35"/><circle cx="1003.8" cy="1073.0" r="2.35"/><circle cx="1004.0" cy="1074.0" r="2.35"/><circle cx="1003.2" cy="1069.8" r="2.35"/><circle cx="1005.4" cy="1070.0" r="2.35"/><circle cx="1006.3" cy="1064.9" r="2.35"/><circle cx="1006.8" cy="1068.5" r="2.35"/><circle cx="1008.9" cy="1064.1" r="2.35"/><circle cx="1008.3" cy="1067.8" r="2.35"/><circle cx="1010.1" cy="1068.3" r="2.35"/><circle cx="1011.6" cy="1063.0" r="2.35"/><circle cx="1011.9" cy="1063.4" r="2.35"/><circle cx="1010.9" cy="1066.1" r="2.35"/><circle cx="1012.0" cy="1060.6" r="2.35"/><circle cx="1013.1" cy="1059.6" r="2.35"/><circle cx="1015.7" cy="1061.0" r="2.35"/><circle cx="1016.6" cy="1061.6" r="2.35"/><circle cx="1014.4" cy="1064.0" r="2.35"/><circle cx="1014.7" cy="1062.3" r="2.35"/><circle cx="1015.6" cy="1064.5" r="2.35"/><circle cx="1017.6" cy="1064.5" r="2.35"/><circle cx="1016.8" cy="1066.8" r="2.35"/><circle cx="1015.1" cy="1066.0" r="2.35"/><circle cx="1016.7" cy="1070.1" r="2.35"/><circle cx="1017.7" cy="1071.4" r="2.35"/><circle cx="1017.8" cy="1070.0" r="2.35"/><circle cx="1019.0" cy="1067.9" r="2.35"/><circle cx="1017.5" cy="1068.1" r="2.35"/><circle cx="1018.0" cy="1066.7" r="2.35"/><circle cx="1019.6" cy="1065.6" r="2.35"/><circle cx="1021.2" cy="1064.1" r="2.35"/><circle cx="1021.2" cy="1061.2" r="2.35"/><circle cx="1022.5" cy="1061.7" r="2.35"/><circle cx="1023.3" cy="1056.8" r="2.35"/><circle cx="1022.3" cy="1061.6" r="2.35"/><circle cx="1020.8" cy="1059.3" r="2.35"/><circle cx="1024.5" cy="1059.0" r="2.35"/><circle cx="1023.0" cy="1058.1" r="2.35"/><circle cx="1025.6" cy="1054.7" r="2.35"/><circle cx="1026.9" cy="1055.3" r="2.35"/><circle cx="1026.5" cy="1053.4" r="2.35"/><circle cx="1027.6" cy="1053.9" r="2.35"/><circle cx="1028.5" cy="1055.8" r="2.35"/><circle cx="1026.5" cy="1055.8" r="2.35"/><circle cx="1028.6" cy="1056.7" r="2.35"/><circle cx="1028.0" cy="1059.7" r="2.35"/><circle cx="1027.5" cy="1055.4" r="2.35"/><circle cx="1028.1" cy="1061.6" r="2.35"/><circle cx="1028.2" cy="1060.9" r="2.35"/><circle cx="1029.7" cy="1063.4" r="2.35"/><circle cx="1027.6" cy="1063.5" r="2.35"/><circle cx="1029.0" cy="1064.0" r="2.35"/><circle cx="1027.5" cy="1071.2" r="2.35"/><circle cx="1030.5" cy="1070.6" r="2.35"/><circle cx="1030.7" cy="1071.0" r="2.35"/><circle cx="1027.0" cy="1073.4" r="2.35"/><circle cx="1030.8" cy="1073.3" r="2.35"/><circle cx="1026.9" cy="1076.0" r="2.35"/><circle cx="1031.2" cy="1073.9" r="2.35"/><circle cx="1029.8" cy="1077.6" r="2.35"/><circle cx="1029.7" cy="1078.6" r="2.35"/><circle cx="1030.2" cy="1076.6" r="2.35"/><circle cx="1030.5" cy="1071.2" r="2.35"/><circle cx="1029.4" cy="1078.9" r="2.35"/><circle cx="1031.4" cy="1074.1" r="2.35"/><circle cx="1032.7" cy="1073.7" r="2.35"/><circle cx="1032.3" cy="1068.0" r="2.35"/><circle cx="1031.9" cy="1064.2" r="2.35"/><circle cx="1032.0" cy="1068.5" r="2.35"/><circle cx="1029.8" cy="1065.9" r="2.35"/><circle cx="1033.9" cy="1066.9" r="2.35"/><circle cx="1032.0" cy="1061.8" r="2.35"/><circle cx="1031.1" cy="1059.9" r="2.35"/><circle cx="1034.6" cy="1067.0" r="2.35"/><circle cx="1032.9" cy="1066.8" r="2.35"/><circle cx="1035.4" cy="1064.4" r="2.35"/><circle cx="1038.1" cy="1061.6" r="2.35"/><circle cx="1035.7" cy="1068.0" r="2.35"/><circle cx="1039.0" cy="1072.3" r="2.35"/><circle cx="1039.6" cy="1070.2" r="2.35"/><circle cx="1038.5" cy="1073.7" r="2.35"/><circle cx="1038.4" cy="1072.9" r="2.35"/><circle cx="1038.2" cy="1072.3" r="2.35"/><circle cx="1038.0" cy="1076.7" r="2.35"/><circle cx="1039.6" cy="1067.7" r="2.35"/><circle cx="1041.1" cy="1070.6" r="2.35"/><circle cx="1041.6" cy="1073.1" r="2.35"/><circle cx="1041.9" cy="1068.0" r="2.35"/><circle cx="1041.7" cy="1067.4" r="2.35"/><circle cx="1042.7" cy="1067.2" r="2.35"/><circle cx="1047.6" cy="1068.7" r="2.35"/><circle cx="1043.1" cy="1072.8" r="2.35"/><circle cx="1045.7" cy="1071.8" r="2.35"/><circle cx="1045.9" cy="1072.8" r="2.35"/><circle cx="563.7" cy="1073.0" r="2.35"/><circle cx="565.6" cy="1073.0" r="2.35"/><circle cx="565.7" cy="1070.7" r="2.35"/><circle cx="567.1" cy="1072.5" r="2.35"/><circle cx="570.2" cy="1070.2" r="2.35"/><circle cx="571.5" cy="1075.7" r="2.35"/><circle cx="573.8" cy="1069.3" r="2.35"/><circle cx="574.1" cy="1072.4" r="2.35"/><circle cx="575.7" cy="1072.1" r="2.35"/><circle cx="578.5" cy="1072.1" r="2.35"/><circle cx="577.9" cy="1072.9" r="2.35"/><circle cx="580.5" cy="1072.0" r="2.35"/><circle cx="581.6" cy="1069.5" r="2.35"/><circle cx="582.5" cy="1071.4" r="2.35"/><circle cx="584.3" cy="1067.4" r="2.35"/><circle cx="588.1" cy="1070.2" r="2.35"/><circle cx="587.8" cy="1073.3" r="2.35"/><circle cx="587.8" cy="1074.9" r="2.35"/><circle cx="591.0" cy="1073.7" r="2.35"/><circle cx="592.9" cy="1073.2" r="2.35"/><circle cx="595.0" cy="1072.8" r="2.35"/><circle cx="594.7" cy="1070.3" r="2.35"/><circle cx="598.1" cy="1075.4" r="2.35"/><circle cx="599.2" cy="1074.0" r="2.35"/><circle cx="601.5" cy="1074.0" r="2.35"/><circle cx="603.9" cy="1070.6" r="2.35"/><circle cx="604.8" cy="1073.0" r="2.35"/><circle cx="605.8" cy="1071.9" r="2.35"/><circle cx="606.9" cy="1071.6" r="2.35"/><circle cx="608.2" cy="1077.9" r="2.35"/><circle cx="612.6" cy="1073.6" r="2.35"/><circle cx="613.2" cy="1072.0" r="2.35"/><circle cx="611.4" cy="1070.6" r="2.35"/><circle cx="615.8" cy="1076.4" r="2.35"/><circle cx="617.2" cy="1072.2" r="2.35"/><circle cx="617.8" cy="1072.3" r="2.35"/><circle cx="920.6" cy="1070.6" r="2.35"/><circle cx="922.7" cy="1069.8" r="2.35"/><circle cx="923.3" cy="1069.7" r="2.35"/><circle cx="925.5" cy="1074.0" r="2.35"/><circle cx="926.1" cy="1075.6" r="2.35"/><circle cx="925.8" cy="1072.4" r="2.35"/><circle cx="927.4" cy="1071.8" r="2.35"/><circle cx="929.7" cy="1073.2" r="2.35"/><circle cx="931.8" cy="1071.5" r="2.35"/><circle cx="930.6" cy="1072.3" r="2.35"/><circle cx="933.1" cy="1071.6" r="2.35"/><circle cx="934.8" cy="1075.9" r="2.35"/><circle cx="933.6" cy="1073.8" r="2.35"/><circle cx="937.1" cy="1070.0" r="2.35"/><circle cx="937.4" cy="1073.1" r="2.35"/><circle cx="936.9" cy="1076.0" r="2.35"/><circle cx="939.6" cy="1073.1" r="2.35"/><circle cx="940.9" cy="1075.2" r="2.35"/><circle cx="942.3" cy="1075.1" r="2.35"/><circle cx="943.0" cy="1072.1" r="2.35"/><circle cx="943.3" cy="1074.5" r="2.35"/><circle cx="942.1" cy="1078.1" r="2.35"/><circle cx="945.6" cy="1072.6" r="2.35"/><circle cx="945.3" cy="1075.0" r="2.35"/><circle cx="948.2" cy="1073.6" r="2.35"/><circle cx="948.8" cy="1073.1" r="2.35"/><circle cx="949.6" cy="1074.6" r="2.35"/><circle cx="950.8" cy="1076.0" r="2.35"/><circle cx="952.4" cy="1075.2" r="2.35"/><circle cx="954.0" cy="1077.3" r="2.35"/><circle cx="955.3" cy="1075.5" r="2.35"/><circle cx="955.6" cy="1073.8" r="2.35"/><circle cx="956.6" cy="1076.5" r="2.35"/><circle cx="958.2" cy="1074.7" r="2.35"/><circle cx="957.8" cy="1072.7" r="2.35"/><circle cx="960.5" cy="1077.3" r="2.35"/><circle cx="961.7" cy="1073.1" r="2.35"/><circle cx="962.2" cy="1075.9" r="2.35"/><circle cx="962.6" cy="1076.2" r="2.35"/><circle cx="964.4" cy="1074.1" r="2.35"/><circle cx="964.5" cy="1077.0" r="2.35"/><circle cx="967.1" cy="1074.1" r="2.35"/><circle cx="966.9" cy="1077.2" r="2.35"/><circle cx="969.6" cy="1075.1" r="2.35"/><circle cx="971.6" cy="1075.2" r="2.35"/><circle cx="970.2" cy="1077.6" r="2.35"/><circle cx="972.1" cy="1076.4" r="2.35"/><circle cx="973.4" cy="1074.0" r="2.35"/><circle cx="973.3" cy="1075.4" r="2.35"/><circle cx="977.0" cy="1074.1" r="2.35"/><circle cx="978.0" cy="1076.2" r="2.35"/><circle cx="976.7" cy="1076.3" r="2.35"/><circle cx="979.4" cy="1074.3" r="2.35"/><circle cx="977.9" cy="1076.5" r="2.35"/><circle cx="980.0" cy="1076.7" r="2.35"/><circle cx="980.3" cy="1075.7" r="2.35"/><circle cx="982.5" cy="1073.4" r="2.35"/><circle cx="984.2" cy="1076.3" r="2.35"/><circle cx="984.9" cy="1073.9" r="2.35"/><circle cx="986.8" cy="1072.8" r="2.35"/><circle cx="988.2" cy="1076.6" r="2.35"/><circle cx="990.4" cy="1077.2" r="2.35"/><circle cx="990.2" cy="1076.1" r="2.35"/><circle cx="991.0" cy="1073.2" r="2.35"/><circle cx="993.5" cy="1076.4" r="2.35"/><circle cx="992.9" cy="1073.3" r="2.35"/><circle cx="995.7" cy="1076.2" r="2.35"/><circle cx="994.2" cy="1076.3" r="2.35"/><circle cx="998.3" cy="1075.0" r="2.35"/><circle cx="997.9" cy="1074.3" r="2.35"/><circle cx="998.0" cy="1076.8" r="2.35"/><circle cx="1002.7" cy="1075.0" r="2.35"/><circle cx="1000.7" cy="1076.1" r="2.35"/><circle cx="1001.6" cy="1075.9" r="2.35"/><circle cx="1003.8" cy="1072.8" r="2.35"/><circle cx="1003.1" cy="1074.3" r="2.35"/><circle cx="1006.0" cy="1074.9" r="2.35"/><circle cx="1007.5" cy="1071.9" r="2.35"/><circle cx="1007.9" cy="1073.1" r="2.35"/><circle cx="1008.6" cy="1074.7" r="2.35"/><circle cx="1008.7" cy="1073.6" r="2.35"/><circle cx="1009.6" cy="1074.4" r="2.35"/><circle cx="1011.0" cy="1073.0" r="2.35"/><circle cx="1013.1" cy="1072.7" r="2.35"/><circle cx="1015.1" cy="1072.7" r="2.35"/><circle cx="1015.9" cy="1074.2" r="2.35"/><circle cx="1015.2" cy="1073.3" r="2.35"/><circle cx="1016.5" cy="1073.0" r="2.35"/><circle cx="1018.1" cy="1076.8" r="2.35"/><circle cx="1019.1" cy="1076.3" r="2.35"/><circle cx="1021.0" cy="1071.2" r="2.35"/><circle cx="1019.5" cy="1074.6" r="2.35"/><circle cx="1020.9" cy="1074.6" r="2.35"/><circle cx="1024.9" cy="1074.0" r="2.35"/><circle cx="1024.8" cy="1072.8" r="2.35"/><circle cx="1026.3" cy="1072.7" r="2.35"/><circle cx="1026.7" cy="1072.5" r="2.35"/><circle cx="1029.4" cy="1072.0" r="2.35"/><circle cx="1029.8" cy="1071.0" r="2.35"/><circle cx="1029.8" cy="1070.5" r="2.35"/><circle cx="1031.4" cy="1074.0" r="2.35"/><circle cx="1033.0" cy="1071.8" r="2.35"/><circle cx="1034.3" cy="1071.9" r="2.35"/><circle cx="1035.2" cy="1072.9" r="2.35"/><circle cx="1036.5" cy="1067.9" r="2.35"/><circle cx="1035.8" cy="1073.5" r="2.35"/><circle cx="1038.0" cy="1075.9" r="2.35"/><circle cx="1039.0" cy="1070.9" r="2.35"/><circle cx="1041.8" cy="1072.7" r="2.35"/><circle cx="1043.2" cy="1072.5" r="2.35"/><circle cx="1042.3" cy="1072.7" r="2.35"/><circle cx="1042.8" cy="1070.5" r="2.35"/><circle cx="1044.1" cy="1070.8" r="2.35"/><circle cx="1046.5" cy="1070.2" r="2.35"/><circle cx="1046.3" cy="1070.1" r="2.35"/></g>
<g fill="none" stroke="#fde81c" stroke-linejoin="round" stroke-linecap="round">
<polyline stroke-width="4.4" points="1045.0,1071.0 1045.8,1070.9 1046.9,1070.7 1048.2,1070.5 1049.6,1070.3 1051.1,1070.1 1052.5,1069.8 1054.0,1069.5 1055.5,1069.2 1057.1,1068.9 1058.7,1068.6 1060.3,1068.1 1061.9,1067.5 1063.5,1066.8 1065.0,1065.9 1066.6,1064.9 1068.1,1063.9 1069.7,1062.9 1071.2,1061.9 1072.8,1061.0 1074.4,1060.1 1075.9,1059.2 1077.5,1058.3 1079.0,1057.3 1080.6,1056.2 1082.2,1055.1 1083.8,1053.9 1085.4,1052.7 1087.0,1051.4 1088.5,1050.1 1090.0,1048.8 1091.4,1047.4 1092.7,1046.0 1094.0,1044.6 1095.2,1043.1 1096.4,1041.7 1097.5,1040.3 1098.5,1039.0 1099.5,1037.7 1100.4,1036.4 1101.3,1035.0 1102.1,1033.6 1103.0,1031.9 1103.9,1030.0 1104.7,1027.9 1105.6,1025.6 1106.4,1023.3 1107.1,1021.0 1107.8,1018.8 1108.4,1016.5 1108.9,1014.1 1109.4,1011.7 1109.8,1009.4 1110.2,1007.3 1110.6,1005.6 1110.9,1004.2 1111.2,1003.0 1111.5,1002.1 1111.7,1001.3 1111.9,1000.7 1112.0,1000.2"/>
<polyline stroke-width="4.4" points="1136.0,754.9 1136.0,753.6 1136.0,751.8 1136.0,749.7 1136.3,747.8 1136.8,746.1 1137.3,744.4 1138.2,742.7 1139.4,740.8 1141.1,738.8 1143.2,736.6 1145.5,734.5 1147.9,732.3 1150.4,730.2 1153.1,728.2 1155.9,726.1 1158.8,723.8 1161.8,721.0 1164.8,717.9 1168.0,714.9 1171.2,712.1 1174.5,709.8 1178.0,707.8 1181.5,705.9 1185.1,703.6 1188.9,700.9 1192.9,698.0 1196.9,695.0 1200.6,692.0 1204.0,689.1 1207.2,686.3 1210.3,683.4 1213.1,680.4 1215.6,677.2 1217.9,674.0 1220.0,670.6 1222.4,667.2 1225.0,663.8 1227.6,660.3 1230.4,656.8 1233.2,653.2 1236.3,649.4 1239.6,645.5 1242.8,641.6 1245.6,637.7 1247.9,633.9 1249.8,630.1 1251.6,626.2 1253.4,622.2 1255.2,618.0 1257.0,613.7 1258.7,609.3 1260.4,605.1 1262.0,601.0 1263.6,596.9 1265.1,593.0 1266.6,589.6 1267.9,586.8 1269.1,584.5 1270.4,582.4 1272.0,580.3 1274.0,578.3 1276.3,576.4 1278.7,574.6 1281.3,572.6 1284.2,570.5 1287.5,568.2 1290.5,565.9 1292.9,563.3 1294.3,560.6 1295.0,557.7 1295.6,554.6 1296.6,551.2 1298.2,547.4 1300.2,543.3 1302.2,539.0 1304.2,534.8 1306.1,530.6 1308.0,526.3 1310.0,522.2 1311.9,518.4 1313.9,515.0 1315.8,512.0 1317.8,509.1 1319.5,506.4 1321.0,503.8 1322.5,501.3 1323.8,498.9 1325.0,496.6 1326.1,494.3 1327.1,492.1 1328.2,489.9 1329.4,487.8 1330.8,485.8 1332.4,484.0 1334.1,482.2 1335.9,480.2 1337.7,478.1 1339.7,475.9 1341.7,473.7 1343.6,471.4 1345.5,469.0 1347.5,466.4 1349.4,463.9 1351.2,461.6 1352.9,459.5 1354.5,457.5 1356.1,455.6 1357.8,453.9 1359.6,452.4 1361.6,451.0 1363.6,449.7 1365.5,448.4 1367.4,447.1 1369.2,445.8 1371.0,444.6 1373.1,443.5 1375.5,442.6 1378.2,441.8 1380.8,441.0 1383.0,440.2 1384.7,439.2 1386.0,438.2 1387.2,437.2 1388.4,436.4 1389.6,435.9 1390.7,435.5 1391.8,435.3 1392.8,435.3 1393.8,435.6 1394.7,436.1 1395.7,436.7 1396.6,437.5 1397.4,438.5 1398.2,439.7 1399.1,440.9 1400.5,441.9 1402.5,442.7 1405.0,443.3 1407.6,443.9 1410.3,444.6 1413.1,445.5 1416.0,446.5 1418.8,447.5 1421.2,448.4 1423.0,449.3 1424.4,450.2 1425.5,451.1 1426.7,451.7 1427.9,452.2 1429.0,452.6 1430.0,452.7 1431.1,452.3 1432.2,451.2 1433.3,449.5 1434.4,447.7 1435.5,446.2 1436.6,445.1 1437.6,444.1 1438.6,443.4 1439.8,443.0 1441.0,442.9 1442.3,443.0 1443.7,443.4 1445.3,444.1 1447.3,445.1 1449.5,446.5 1451.8,448.0 1454.1,449.5 1456.3,450.9 1458.4,452.4 1460.5,453.8 1462.8,455.0 1465.3,455.9 1467.9,456.5 1470.4,457.2 1472.7,458.3 1474.5,459.8 1476.1,461.5 1477.6,463.6 1479.2,465.9 1481.1,468.6 1483.0,471.7 1485.0,474.9 1486.9,478.0 1488.6,481.0 1490.1,484.0 1491.7,486.9 1493.7,490.0 1496.2,493.1 1499.0,496.2 1501.9,499.5 1504.6,502.8 1507.0,506.1 1509.3,509.5 1511.5,513.1 1513.7,517.3 1516.0,522.4 1518.4,528.2 1520.7,534.1 1522.8,539.2 1524.7,543.4 1526.4,547.1 1528.1,550.5 1530.1,553.7 1532.5,556.5 1535.0,558.8 1537.7,561.3 1540.1,564.6 1542.3,569.0 1544.4,574.1 1546.4,579.5 1548.3,584.7 1550.1,589.8 1551.8,595.0 1553.6,600.1 1555.5,604.7 1557.6,608.7 1559.9,612.3 1562.3,615.8 1564.6,619.3 1566.9,622.9 1569.3,626.5 1571.6,630.2 1573.7,633.8 1575.6,637.5 1577.4,641.2 1579.2,644.9 1581.0,648.4 1583.0,651.6 1585.2,654.6 1587.3,657.7 1589.2,661.1 1590.9,664.9 1592.5,669.1 1594.0,673.3 1595.6,677.5 1597.2,681.6 1598.9,685.8 1600.5,689.9 1602.0,693.9 1603.5,697.7 1605.0,701.3 1606.3,704.8 1607.4,708.4 1608.3,712.4 1608.9,716.6 1609.4,720.4 1609.8,723.0"/>
</g>
<g fill="#fde81c"><circle cx="1045.3" cy="1071.4" r="2.50"/><circle cx="1047.1" cy="1070.3" r="2.50"/><circle cx="1049.2" cy="1070.5" r="2.50"/><circle cx="1051.3" cy="1070.0" r="2.50"/><circle cx="1053.3" cy="1069.5" r="2.50"/><circle cx="1056.0" cy="1069.1" r="2.50"/><circle cx="1058.2" cy="1068.4" r="2.50"/><circle cx="1060.4" cy="1067.8" r="2.50"/><circle cx="1062.6" cy="1067.8" r="2.50"/><circle cx="1064.5" cy="1066.4" r="2.50"/><circle cx="1065.8" cy="1065.1" r="2.50"/><circle cx="1068.1" cy="1064.1" r="2.50"/><circle cx="1070.1" cy="1062.5" r="2.50"/><circle cx="1071.6" cy="1062.0" r="2.50"/><circle cx="1073.6" cy="1060.6" r="2.50"/><circle cx="1075.0" cy="1059.2" r="2.50"/><circle cx="1077.1" cy="1058.7" r="2.50"/><circle cx="1079.5" cy="1057.0" r="2.50"/><circle cx="1081.4" cy="1055.6" r="2.50"/><circle cx="1082.9" cy="1055.1" r="2.50"/><circle cx="1084.4" cy="1053.8" r="2.50"/><circle cx="1086.4" cy="1051.6" r="2.50"/><circle cx="1087.8" cy="1050.5" r="2.50"/><circle cx="1089.4" cy="1049.3" r="2.50"/><circle cx="1090.9" cy="1047.9" r="2.50"/><circle cx="1092.5" cy="1045.6" r="2.50"/><circle cx="1094.2" cy="1044.0" r="2.50"/><circle cx="1095.6" cy="1043.0" r="2.50"/><circle cx="1097.0" cy="1041.0" r="2.50"/><circle cx="1097.9" cy="1039.3" r="2.50"/><circle cx="1099.3" cy="1037.6" r="2.50"/><circle cx="1100.5" cy="1035.8" r="2.50"/><circle cx="1101.9" cy="1033.7" r="2.50"/><circle cx="1103.2" cy="1031.5" r="2.50"/><circle cx="1103.6" cy="1030.2" r="2.50"/><circle cx="1104.6" cy="1028.1" r="2.50"/><circle cx="1105.9" cy="1025.7" r="2.50"/><circle cx="1105.9" cy="1023.3" r="2.50"/><circle cx="1107.3" cy="1021.2" r="2.50"/><circle cx="1107.6" cy="1019.5" r="2.50"/><circle cx="1107.8" cy="1017.3" r="2.50"/><circle cx="1108.4" cy="1015.2" r="2.50"/><circle cx="1109.1" cy="1012.9" r="2.50"/><circle cx="1109.3" cy="1010.8" r="2.50"/><circle cx="1109.7" cy="1008.4" r="2.50"/><circle cx="1110.2" cy="1006.9" r="2.50"/><circle cx="1110.9" cy="1004.8" r="2.50"/><circle cx="1111.0" cy="1002.7" r="2.50"/><circle cx="1112.0" cy="1000.5" r="2.50"/></g>
<g fill="#fde81c"><circle cx="1136.1" cy="755.1" r="2.55"/><circle cx="1135.7" cy="752.9" r="2.55"/><circle cx="1135.7" cy="750.3" r="2.55"/><circle cx="1135.8" cy="748.2" r="2.55"/><circle cx="1136.7" cy="746.0" r="2.55"/><circle cx="1137.8" cy="743.7" r="2.55"/><circle cx="1138.6" cy="741.9" r="2.55"/><circle cx="1139.8" cy="740.6" r="2.55"/><circle cx="1141.4" cy="738.3" r="2.55"/><circle cx="1142.5" cy="737.2" r="2.55"/><circle cx="1144.7" cy="735.2" r="2.55"/><circle cx="1146.0" cy="734.3" r="2.55"/><circle cx="1147.8" cy="732.5" r="2.55"/><circle cx="1149.5" cy="731.2" r="2.55"/><circle cx="1151.3" cy="729.4" r="2.55"/><circle cx="1153.1" cy="728.5" r="2.55"/><circle cx="1154.4" cy="726.8" r="2.55"/><circle cx="1156.0" cy="726.1" r="2.55"/><circle cx="1158.1" cy="724.2" r="2.55"/><circle cx="1159.5" cy="722.7" r="2.55"/><circle cx="1160.9" cy="721.3" r="2.55"/><circle cx="1162.6" cy="720.4" r="2.55"/><circle cx="1164.8" cy="718.7" r="2.55"/><circle cx="1165.9" cy="716.9" r="2.55"/><circle cx="1167.7" cy="715.7" r="2.55"/><circle cx="1169.3" cy="714.0" r="2.55"/><circle cx="1170.5" cy="712.6" r="2.55"/><circle cx="1172.9" cy="711.4" r="2.55"/><circle cx="1174.0" cy="710.1" r="2.55"/><circle cx="1176.1" cy="708.5" r="2.55"/><circle cx="1178.6" cy="707.9" r="2.55"/><circle cx="1180.3" cy="706.3" r="2.55"/><circle cx="1182.3" cy="705.9" r="2.55"/><circle cx="1184.2" cy="704.6" r="2.55"/><circle cx="1186.0" cy="703.4" r="2.55"/><circle cx="1187.6" cy="701.9" r="2.55"/><circle cx="1189.6" cy="700.9" r="2.55"/><circle cx="1191.4" cy="699.2" r="2.55"/><circle cx="1193.3" cy="698.1" r="2.55"/><circle cx="1195.0" cy="696.4" r="2.55"/><circle cx="1196.8" cy="695.6" r="2.55"/><circle cx="1197.9" cy="694.3" r="2.55"/><circle cx="1199.6" cy="692.4" r="2.55"/><circle cx="1201.5" cy="691.0" r="2.55"/><circle cx="1203.2" cy="690.2" r="2.55"/><circle cx="1205.0" cy="688.6" r="2.55"/><circle cx="1206.4" cy="687.2" r="2.55"/><circle cx="1208.4" cy="685.6" r="2.55"/><circle cx="1210.1" cy="684.2" r="2.55"/><circle cx="1211.2" cy="682.0" r="2.55"/><circle cx="1212.9" cy="681.1" r="2.55"/><circle cx="1214.0" cy="679.2" r="2.55"/><circle cx="1215.8" cy="677.6" r="2.55"/><circle cx="1216.3" cy="675.5" r="2.55"/><circle cx="1217.6" cy="673.4" r="2.55"/><circle cx="1219.5" cy="671.8" r="2.55"/><circle cx="1220.5" cy="670.0" r="2.55"/><circle cx="1221.5" cy="668.0" r="2.55"/><circle cx="1222.8" cy="666.8" r="2.55"/><circle cx="1224.4" cy="664.5" r="2.55"/><circle cx="1225.2" cy="662.7" r="2.55"/><circle cx="1227.1" cy="661.1" r="2.55"/><circle cx="1228.5" cy="659.7" r="2.55"/><circle cx="1229.3" cy="657.9" r="2.55"/><circle cx="1230.6" cy="656.3" r="2.55"/><circle cx="1232.1" cy="654.0" r="2.55"/><circle cx="1234.2" cy="652.4" r="2.55"/><circle cx="1234.9" cy="651.2" r="2.55"/><circle cx="1236.6" cy="649.5" r="2.55"/><circle cx="1237.9" cy="647.5" r="2.55"/><circle cx="1239.8" cy="645.8" r="2.55"/><circle cx="1241.2" cy="643.8" r="2.55"/><circle cx="1242.5" cy="642.1" r="2.55"/><circle cx="1243.5" cy="640.2" r="2.55"/><circle cx="1244.5" cy="639.2" r="2.55"/><circle cx="1246.0" cy="637.3" r="2.55"/><circle cx="1246.9" cy="635.0" r="2.55"/><circle cx="1247.9" cy="633.3" r="2.55"/><circle cx="1249.6" cy="631.3" r="2.55"/><circle cx="1250.1" cy="629.7" r="2.55"/><circle cx="1251.5" cy="627.4" r="2.55"/><circle cx="1251.6" cy="625.4" r="2.55"/><circle cx="1252.9" cy="623.7" r="2.55"/><circle cx="1253.7" cy="621.4" r="2.55"/><circle cx="1254.8" cy="619.1" r="2.55"/><circle cx="1255.6" cy="617.4" r="2.55"/><circle cx="1256.7" cy="615.2" r="2.55"/><circle cx="1257.1" cy="613.6" r="2.55"/><circle cx="1257.6" cy="611.4" r="2.55"/><circle cx="1259.0" cy="609.1" r="2.55"/><circle cx="1259.6" cy="607.2" r="2.55"/><circle cx="1260.8" cy="605.2" r="2.55"/><circle cx="1261.5" cy="602.5" r="2.55"/><circle cx="1261.9" cy="600.5" r="2.55"/><circle cx="1263.3" cy="599.2" r="2.55"/><circle cx="1263.3" cy="596.8" r="2.55"/><circle cx="1264.5" cy="594.3" r="2.55"/><circle cx="1265.2" cy="592.9" r="2.55"/><circle cx="1266.3" cy="590.4" r="2.55"/><circle cx="1267.3" cy="588.5" r="2.55"/><circle cx="1268.0" cy="586.6" r="2.55"/><circle cx="1269.4" cy="584.8" r="2.55"/><circle cx="1270.4" cy="583.0" r="2.55"/><circle cx="1271.3" cy="581.5" r="2.55"/><circle cx="1273.1" cy="579.6" r="2.55"/><circle cx="1274.3" cy="577.6" r="2.55"/><circle cx="1276.3" cy="576.8" r="2.55"/><circle cx="1278.2" cy="575.0" r="2.55"/><circle cx="1279.4" cy="573.9" r="2.55"/><circle cx="1281.8" cy="572.2" r="2.55"/><circle cx="1283.4" cy="570.9" r="2.55"/><circle cx="1284.8" cy="569.5" r="2.55"/><circle cx="1286.6" cy="568.6" r="2.55"/><circle cx="1289.0" cy="567.8" r="2.55"/><circle cx="1290.0" cy="565.8" r="2.55"/><circle cx="1292.2" cy="564.2" r="2.55"/><circle cx="1293.0" cy="562.7" r="2.55"/><circle cx="1293.8" cy="560.5" r="2.55"/><circle cx="1294.7" cy="558.5" r="2.55"/><circle cx="1295.6" cy="556.3" r="2.55"/><circle cx="1295.4" cy="554.7" r="2.55"/><circle cx="1296.3" cy="552.5" r="2.55"/><circle cx="1297.2" cy="550.4" r="2.55"/><circle cx="1297.7" cy="547.8" r="2.55"/><circle cx="1299.0" cy="546.1" r="2.55"/><circle cx="1299.8" cy="544.3" r="2.55"/><circle cx="1300.9" cy="541.9" r="2.55"/><circle cx="1301.5" cy="540.5" r="2.55"/><circle cx="1302.6" cy="538.0" r="2.55"/><circle cx="1303.7" cy="536.0" r="2.55"/><circle cx="1304.7" cy="533.8" r="2.55"/><circle cx="1305.7" cy="532.3" r="2.55"/><circle cx="1306.2" cy="530.6" r="2.55"/><circle cx="1307.0" cy="528.0" r="2.55"/><circle cx="1307.7" cy="526.2" r="2.55"/><circle cx="1309.3" cy="524.4" r="2.55"/><circle cx="1309.9" cy="522.5" r="2.55"/><circle cx="1310.6" cy="520.1" r="2.55"/><circle cx="1312.1" cy="518.7" r="2.55"/><circle cx="1313.2" cy="516.6" r="2.55"/><circle cx="1314.5" cy="514.4" r="2.55"/><circle cx="1315.8" cy="512.9" r="2.55"/><circle cx="1316.5" cy="510.7" r="2.55"/><circle cx="1318.1" cy="508.9" r="2.55"/><circle cx="1318.7" cy="507.5" r="2.55"/><circle cx="1320.2" cy="505.3" r="2.55"/><circle cx="1321.4" cy="503.7" r="2.55"/><circle cx="1322.0" cy="501.3" r="2.55"/><circle cx="1323.0" cy="499.4" r="2.55"/><circle cx="1324.5" cy="497.9" r="2.55"/><circle cx="1325.6" cy="495.7" r="2.55"/><circle cx="1326.3" cy="493.7" r="2.55"/><circle cx="1327.1" cy="491.9" r="2.55"/><circle cx="1328.6" cy="490.0" r="2.55"/><circle cx="1329.1" cy="487.9" r="2.55"/><circle cx="1331.0" cy="486.0" r="2.55"/><circle cx="1332.5" cy="484.7" r="2.55"/><circle cx="1333.9" cy="483.0" r="2.55"/><circle cx="1335.3" cy="481.4" r="2.55"/><circle cx="1336.3" cy="479.6" r="2.55"/><circle cx="1338.2" cy="477.9" r="2.55"/><circle cx="1339.3" cy="475.7" r="2.55"/><circle cx="1341.1" cy="474.8" r="2.55"/><circle cx="1342.2" cy="472.6" r="2.55"/><circle cx="1343.6" cy="470.8" r="2.55"/><circle cx="1345.3" cy="469.8" r="2.55"/><circle cx="1346.8" cy="467.5" r="2.55"/><circle cx="1348.0" cy="465.5" r="2.55"/><circle cx="1349.5" cy="464.0" r="2.55"/><circle cx="1350.1" cy="462.6" r="2.55"/><circle cx="1351.6" cy="460.5" r="2.55"/><circle cx="1352.9" cy="458.9" r="2.55"/><circle cx="1354.7" cy="457.6" r="2.55"/><circle cx="1355.7" cy="455.9" r="2.55"/><circle cx="1357.3" cy="453.8" r="2.55"/><circle cx="1359.4" cy="452.5" r="2.55"/><circle cx="1360.9" cy="451.4" r="2.55"/><circle cx="1362.7" cy="450.4" r="2.55"/><circle cx="1364.5" cy="449.2" r="2.55"/><circle cx="1366.9" cy="447.7" r="2.55"/><circle cx="1367.9" cy="446.6" r="2.55"/><circle cx="1369.8" cy="445.1" r="2.55"/><circle cx="1372.0" cy="443.6" r="2.55"/><circle cx="1374.2" cy="443.3" r="2.55"/><circle cx="1376.2" cy="442.3" r="2.55"/><circle cx="1378.3" cy="441.8" r="2.55"/><circle cx="1380.1" cy="441.5" r="2.55"/><circle cx="1382.9" cy="440.7" r="2.55"/><circle cx="1384.8" cy="439.2" r="2.55"/><circle cx="1386.6" cy="437.7" r="2.55"/><circle cx="1387.9" cy="436.4" r="2.55"/><circle cx="1389.8" cy="435.9" r="2.55"/><circle cx="1392.2" cy="435.2" r="2.55"/><circle cx="1394.0" cy="435.5" r="2.55"/><circle cx="1395.9" cy="436.8" r="2.55"/><circle cx="1397.2" cy="438.7" r="2.55"/><circle cx="1398.7" cy="440.3" r="2.55"/><circle cx="1400.1" cy="442.0" r="2.55"/><circle cx="1402.1" cy="442.4" r="2.55"/><circle cx="1404.6" cy="443.4" r="2.55"/><circle cx="1407.1" cy="443.9" r="2.55"/><circle cx="1409.2" cy="444.6" r="2.55"/><circle cx="1411.1" cy="445.0" r="2.55"/><circle cx="1412.6" cy="445.2" r="2.55"/><circle cx="1414.6" cy="446.5" r="2.55"/><circle cx="1417.4" cy="447.0" r="2.55"/><circle cx="1419.0" cy="447.5" r="2.55"/><circle cx="1421.0" cy="448.6" r="2.55"/><circle cx="1423.7" cy="449.3" r="2.55"/><circle cx="1424.6" cy="450.4" r="2.55"/><circle cx="1426.8" cy="452.2" r="2.55"/><circle cx="1429.3" cy="452.5" r="2.55"/><circle cx="1430.8" cy="451.9" r="2.55"/><circle cx="1432.2" cy="450.9" r="2.55"/><circle cx="1433.7" cy="449.2" r="2.55"/><circle cx="1435.3" cy="447.2" r="2.55"/><circle cx="1436.4" cy="445.6" r="2.55"/><circle cx="1437.7" cy="443.5" r="2.55"/><circle cx="1440.1" cy="443.0" r="2.55"/><circle cx="1442.0" cy="442.8" r="2.55"/><circle cx="1443.9" cy="444.1" r="2.55"/><circle cx="1446.5" cy="445.0" r="2.55"/><circle cx="1448.6" cy="445.7" r="2.55"/><circle cx="1450.3" cy="446.8" r="2.55"/><circle cx="1452.2" cy="448.4" r="2.55"/><circle cx="1453.4" cy="448.8" r="2.55"/><circle cx="1455.3" cy="450.6" r="2.55"/><circle cx="1457.3" cy="451.3" r="2.55"/><circle cx="1459.5" cy="453.2" r="2.55"/><circle cx="1461.1" cy="453.7" r="2.55"/><circle cx="1463.4" cy="455.1" r="2.55"/><circle cx="1464.8" cy="455.7" r="2.55"/><circle cx="1467.4" cy="456.7" r="2.55"/><circle cx="1469.4" cy="457.1" r="2.55"/><circle cx="1471.2" cy="457.5" r="2.55"/><circle cx="1473.7" cy="458.7" r="2.55"/><circle cx="1474.6" cy="460.4" r="2.55"/><circle cx="1476.1" cy="461.7" r="2.55"/><circle cx="1477.6" cy="463.8" r="2.55"/><circle cx="1479.1" cy="465.7" r="2.55"/><circle cx="1480.1" cy="467.0" r="2.55"/><circle cx="1481.6" cy="468.8" r="2.55"/><circle cx="1482.6" cy="470.9" r="2.55"/><circle cx="1483.9" cy="473.1" r="2.55"/><circle cx="1484.7" cy="474.9" r="2.55"/><circle cx="1486.3" cy="476.6" r="2.55"/><circle cx="1486.9" cy="478.9" r="2.55"/><circle cx="1488.4" cy="480.1" r="2.55"/><circle cx="1489.1" cy="482.8" r="2.55"/><circle cx="1490.1" cy="484.3" r="2.55"/><circle cx="1491.6" cy="486.6" r="2.55"/><circle cx="1492.6" cy="488.4" r="2.55"/><circle cx="1493.3" cy="489.6" r="2.55"/><circle cx="1495.5" cy="492.0" r="2.55"/><circle cx="1496.1" cy="493.0" r="2.55"/><circle cx="1497.7" cy="495.5" r="2.55"/><circle cx="1499.2" cy="496.9" r="2.55"/><circle cx="1501.3" cy="498.5" r="2.55"/><circle cx="1502.7" cy="499.8" r="2.55"/><circle cx="1503.4" cy="501.3" r="2.55"/><circle cx="1505.3" cy="503.1" r="2.55"/><circle cx="1506.8" cy="505.4" r="2.55"/><circle cx="1507.3" cy="507.3" r="2.55"/><circle cx="1508.5" cy="508.9" r="2.55"/><circle cx="1509.7" cy="511.0" r="2.55"/><circle cx="1511.5" cy="513.0" r="2.55"/><circle cx="1511.8" cy="514.8" r="2.55"/><circle cx="1513.3" cy="516.8" r="2.55"/><circle cx="1514.2" cy="518.6" r="2.55"/><circle cx="1515.2" cy="520.7" r="2.55"/><circle cx="1515.6" cy="522.1" r="2.55"/><circle cx="1516.9" cy="524.3" r="2.55"/><circle cx="1517.6" cy="526.1" r="2.55"/><circle cx="1518.7" cy="528.1" r="2.55"/><circle cx="1519.6" cy="530.9" r="2.55"/><circle cx="1520.1" cy="532.3" r="2.55"/><circle cx="1521.1" cy="534.4" r="2.55"/><circle cx="1521.7" cy="536.4" r="2.55"/><circle cx="1523.0" cy="538.8" r="2.55"/><circle cx="1523.4" cy="540.4" r="2.55"/><circle cx="1524.6" cy="543.1" r="2.55"/><circle cx="1525.6" cy="544.4" r="2.55"/><circle cx="1526.1" cy="546.6" r="2.55"/><circle cx="1527.5" cy="548.4" r="2.55"/><circle cx="1528.3" cy="551.1" r="2.55"/><circle cx="1529.6" cy="552.1" r="2.55"/><circle cx="1530.3" cy="554.0" r="2.55"/><circle cx="1532.3" cy="556.1" r="2.55"/><circle cx="1533.7" cy="557.5" r="2.55"/><circle cx="1535.2" cy="559.2" r="2.55"/><circle cx="1537.0" cy="560.9" r="2.55"/><circle cx="1538.5" cy="562.5" r="2.55"/><circle cx="1540.0" cy="564.3" r="2.55"/><circle cx="1540.9" cy="565.5" r="2.55"/><circle cx="1541.9" cy="568.2" r="2.55"/><circle cx="1542.6" cy="570.2" r="2.55"/><circle cx="1543.2" cy="572.3" r="2.55"/><circle cx="1544.3" cy="574.1" r="2.55"/><circle cx="1544.9" cy="575.8" r="2.55"/><circle cx="1545.7" cy="577.9" r="2.55"/><circle cx="1546.2" cy="580.1" r="2.55"/><circle cx="1547.8" cy="582.3" r="2.55"/><circle cx="1548.5" cy="584.5" r="2.55"/><circle cx="1549.2" cy="586.8" r="2.55"/><circle cx="1549.8" cy="588.2" r="2.55"/><circle cx="1550.1" cy="590.4" r="2.55"/><circle cx="1550.6" cy="592.3" r="2.55"/><circle cx="1552.1" cy="595.0" r="2.55"/><circle cx="1552.3" cy="597.0" r="2.55"/><circle cx="1553.4" cy="599.2" r="2.55"/><circle cx="1554.2" cy="600.9" r="2.55"/><circle cx="1554.4" cy="603.2" r="2.55"/><circle cx="1555.4" cy="605.0" r="2.55"/><circle cx="1556.5" cy="606.9" r="2.55"/><circle cx="1558.1" cy="608.5" r="2.55"/><circle cx="1558.9" cy="610.8" r="2.55"/><circle cx="1560.1" cy="612.9" r="2.55"/><circle cx="1561.2" cy="614.7" r="2.55"/><circle cx="1562.7" cy="616.6" r="2.55"/><circle cx="1563.4" cy="617.7" r="2.55"/><circle cx="1564.7" cy="620.2" r="2.55"/><circle cx="1565.7" cy="621.5" r="2.55"/><circle cx="1567.5" cy="624.0" r="2.55"/><circle cx="1568.2" cy="625.3" r="2.55"/><circle cx="1569.9" cy="627.4" r="2.55"/><circle cx="1571.1" cy="629.3" r="2.55"/><circle cx="1571.8" cy="630.7" r="2.55"/><circle cx="1572.7" cy="633.0" r="2.55"/><circle cx="1574.0" cy="634.6" r="2.55"/><circle cx="1575.7" cy="636.9" r="2.55"/><circle cx="1576.3" cy="638.8" r="2.55"/><circle cx="1577.2" cy="640.9" r="2.55"/><circle cx="1577.9" cy="642.3" r="2.55"/><circle cx="1578.7" cy="644.2" r="2.55"/><circle cx="1579.9" cy="646.3" r="2.55"/><circle cx="1580.7" cy="648.5" r="2.55"/><circle cx="1582.7" cy="650.6" r="2.55"/><circle cx="1583.3" cy="652.5" r="2.55"/><circle cx="1584.5" cy="653.7" r="2.55"/><circle cx="1585.8" cy="655.8" r="2.55"/><circle cx="1587.4" cy="657.6" r="2.55"/><circle cx="1588.5" cy="659.2" r="2.55"/><circle cx="1589.8" cy="661.4" r="2.55"/><circle cx="1590.6" cy="663.1" r="2.55"/><circle cx="1591.5" cy="665.3" r="2.55"/><circle cx="1592.3" cy="667.9" r="2.55"/><circle cx="1592.9" cy="669.5" r="2.55"/><circle cx="1593.0" cy="671.4" r="2.55"/><circle cx="1594.6" cy="673.5" r="2.55"/><circle cx="1595.1" cy="675.9" r="2.55"/><circle cx="1595.9" cy="677.6" r="2.55"/><circle cx="1596.2" cy="679.6" r="2.55"/><circle cx="1597.8" cy="681.9" r="2.55"/><circle cx="1598.3" cy="684.1" r="2.55"/><circle cx="1598.7" cy="685.7" r="2.55"/><circle cx="1599.3" cy="688.5" r="2.55"/><circle cx="1600.2" cy="690.6" r="2.55"/><circle cx="1601.2" cy="692.5" r="2.55"/><circle cx="1601.8" cy="694.6" r="2.55"/><circle cx="1602.7" cy="696.2" r="2.55"/><circle cx="1603.8" cy="698.0" r="2.55"/><circle cx="1604.4" cy="700.7" r="2.55"/><circle cx="1605.2" cy="702.4" r="2.55"/><circle cx="1606.4" cy="704.3" r="2.55"/><circle cx="1606.6" cy="706.4" r="2.55"/><circle cx="1607.4" cy="708.6" r="2.55"/><circle cx="1608.1" cy="710.9" r="2.55"/><circle cx="1608.7" cy="712.6" r="2.55"/><circle cx="1608.9" cy="715.5" r="2.55"/><circle cx="1608.8" cy="717.0" r="2.55"/><circle cx="1609.3" cy="719.2" r="2.55"/><circle cx="1609.6" cy="722.0" r="2.55"/><circle cx="1609.4" cy="722.7" r="2.55"/></g>
<g fill="#fde81c"><circle cx="1111.9" cy="1000.0" r="2.15"/><circle cx="1112.2" cy="998.0" r="2.15"/><circle cx="1112.5" cy="996.0" r="2.16"/><circle cx="1112.7" cy="993.9" r="2.16"/><circle cx="1113.0" cy="991.8" r="2.17"/><circle cx="1113.3" cy="989.6" r="2.17"/><circle cx="1113.6" cy="987.5" r="2.18"/><circle cx="1113.9" cy="985.2" r="2.18"/><circle cx="1114.2" cy="983.0" r="2.19"/><circle cx="1114.5" cy="980.7" r="2.19"/><circle cx="1114.8" cy="978.3" r="2.19"/><circle cx="1115.2" cy="976.0" r="2.20"/><circle cx="1115.5" cy="973.5" r="2.20"/><circle cx="1115.8" cy="971.1" r="2.21"/><circle cx="1116.2" cy="968.6" r="2.21"/><circle cx="1116.5" cy="966.0" r="2.22"/><circle cx="1116.8" cy="963.4" r="2.23"/><circle cx="1117.2" cy="960.7" r="2.23"/><circle cx="1117.6" cy="958.1" r="2.24"/><circle cx="1117.9" cy="955.3" r="2.24"/><circle cx="1118.3" cy="952.5" r="2.25"/><circle cx="1118.7" cy="949.7" r="2.25"/><circle cx="1119.1" cy="946.8" r="2.26"/><circle cx="1119.5" cy="943.9" r="2.27"/><circle cx="1119.9" cy="940.9" r="2.27"/><circle cx="1120.3" cy="937.8" r="2.28"/><circle cx="1120.7" cy="934.7" r="2.28"/><circle cx="1121.1" cy="931.6" r="2.29"/><circle cx="1121.5" cy="928.4" r="2.30"/><circle cx="1121.9" cy="925.1" r="2.30"/><circle cx="1122.2" cy="921.8" r="2.31"/><circle cx="1122.6" cy="918.4" r="2.32"/><circle cx="1122.9" cy="915.0" r="2.33"/><circle cx="1123.3" cy="911.5" r="2.33"/><circle cx="1123.6" cy="907.9" r="2.34"/><circle cx="1124.0" cy="904.3" r="2.35"/><circle cx="1124.4" cy="900.6" r="2.35"/><circle cx="1124.8" cy="896.8" r="2.36"/><circle cx="1125.2" cy="893.0" r="2.37"/><circle cx="1125.6" cy="889.1" r="2.38"/><circle cx="1126.0" cy="885.2" r="2.39"/><circle cx="1126.4" cy="881.1" r="2.39"/><circle cx="1126.8" cy="877.0" r="2.40"/><circle cx="1127.2" cy="872.9" r="2.41"/><circle cx="1127.7" cy="868.6" r="2.42"/><circle cx="1128.1" cy="864.3" r="2.43"/><circle cx="1128.6" cy="859.9" r="2.44"/><circle cx="1129.0" cy="855.4" r="2.45"/><circle cx="1129.5" cy="850.9" r="2.46"/><circle cx="1130.0" cy="846.3" r="2.47"/><circle cx="1130.5" cy="841.6" r="2.48"/><circle cx="1130.9" cy="836.8" r="2.49"/><circle cx="1131.4" cy="831.9" r="2.50"/><circle cx="1131.4" cy="830.5" r="2.55"/><circle cx="1132.6" cy="816.8" r="2.6"/><circle cx="1132.6" cy="809.3" r="2.6"/><circle cx="1133.0" cy="802.2" r="2.6"/><circle cx="1133.6" cy="795.3" r="2.6"/><circle cx="1134.3" cy="788.3" r="2.6"/><circle cx="1134.4" cy="782.3" r="2.6"/><circle cx="1134.8" cy="777.0" r="2.6"/><circle cx="1135.5" cy="771.4" r="2.6"/><circle cx="1136.0" cy="762.7" r="2.6"/></g>
<path d="M1223.3 711.7H1549.6" stroke="#ffffff" stroke-width="7" stroke-dasharray="25 13.74" fill="none"/>
<polygon fill="#ffffff" points="990.7,752.2 1080.8,840.1 1072.8,848.2 1115.5,867.6 1095.0,825.4 1087.1,833.5 997.1,745.6"/>
<polygon fill="#ffffff" points="731.1,878.2 773.1,953.0 762.8,958.8 797.7,987.7 791.3,942.8 781.0,948.6 739.1,873.8"/>
<g stroke="#ffffff" stroke-width="5.2" stroke-dasharray="11.4 3.77" fill="none"><path d="M1650.9 482.1V676"/><path d="M1650.9 830.2V1024.9"/></g>
</svg></body></html>
